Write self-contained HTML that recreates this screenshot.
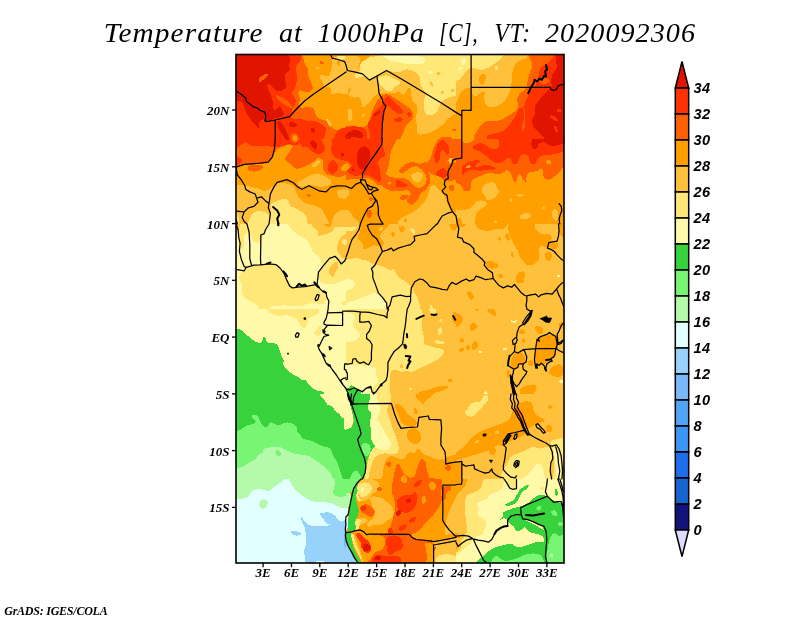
<!DOCTYPE html>
<html lang="en"><head><meta charset="utf-8"><title>Temperature at 1000hPa [C], VT: 2020092306</title>
<style>html,body{margin:0;padding:0;background:#fff}body{width:800px;height:618px;overflow:hidden}svg{display:block}.t{font-family:"Liberation Serif",serif;font-style:italic;font-size:27px;letter-spacing:1px;fill:#000}.a{font-family:"Liberation Serif",serif;font-style:italic;font-weight:bold;font-size:13px;fill:#000}.c{font-family:"Liberation Sans",sans-serif;font-style:italic;font-weight:bold;font-size:14.6px;letter-spacing:0.4px;fill:#000}.g{font-family:"Liberation Serif",serif;font-style:italic;font-weight:bold;font-size:12px;fill:#000}</style></head><body>
<svg width="800" height="618" viewBox="0 0 800 618">
<rect width="800" height="618" fill="#fff"/>
<text class="t" y="41.8"><tspan x="103.8" textLength="159.7" lengthAdjust="spacingAndGlyphs">Temperature</tspan> <tspan x="279" textLength="24.0" lengthAdjust="spacingAndGlyphs">at</tspan> <tspan x="317.5" textLength="107.5" lengthAdjust="spacingAndGlyphs">1000hPa</tspan> <tspan x="439" textLength="39.5" lengthAdjust="spacingAndGlyphs">[C],</tspan> <tspan x="494.5" textLength="36.5" lengthAdjust="spacingAndGlyphs">VT:</tspan> <tspan x="545" textLength="151.0" lengthAdjust="spacingAndGlyphs">2020092306</tspan></text>
<defs>
<clipPath id="fr"><rect x="236" y="54.5" width="328" height="508.5"/></clipPath>
<clipPath id="t00"><rect x="236" y="54" width="110" height="85"/></clipPath>
<clipPath id="t10"><rect x="346" y="54" width="110" height="85"/></clipPath>
<clipPath id="t20"><rect x="456" y="54" width="110" height="85"/></clipPath>
<clipPath id="t01"><rect x="236" y="139" width="110" height="85"/></clipPath>
<clipPath id="t11"><rect x="346" y="139" width="110" height="85"/></clipPath>
<clipPath id="t21"><rect x="456" y="139" width="110" height="85"/></clipPath>
<clipPath id="t02"><rect x="236" y="224" width="110" height="85"/></clipPath>
<clipPath id="t12"><rect x="346" y="224" width="110" height="85"/></clipPath>
<clipPath id="t22"><rect x="456" y="224" width="110" height="85"/></clipPath>
<clipPath id="t03"><rect x="236" y="309" width="110" height="85"/></clipPath>
<clipPath id="t13"><rect x="346" y="309" width="110" height="85"/></clipPath>
<clipPath id="t23"><rect x="456" y="309" width="110" height="85"/></clipPath>
<clipPath id="t04"><rect x="236" y="394" width="110" height="85"/></clipPath>
<clipPath id="t14"><rect x="346" y="394" width="110" height="85"/></clipPath>
<clipPath id="t24"><rect x="456" y="394" width="110" height="85"/></clipPath>
<clipPath id="t05"><rect x="236" y="479" width="110" height="85"/></clipPath>
<clipPath id="t15"><rect x="346" y="479" width="110" height="85"/></clipPath>
<clipPath id="t25"><rect x="456" y="479" width="110" height="85"/></clipPath>
</defs>
<g clip-path="url(#fr)">
<rect x="236" y="54.5" width="328" height="508.5" fill="#ffc03c"/>
<g clip-path="url(#t00)" shape-rendering="crispEdges">
<rect x="236" y="54" width="110" height="85" fill="#ffa000"/>
<path d="M266.9,51.2L300.6,51.2L302.3,55.4Q304.1,59.5 304.4,62.2Q304.8,65.0 306.8,67.1Q308.9,69.1 308.2,71.9Q307.5,74.6 309.2,78.1Q310.9,81.5 312.3,86.0Q313.7,90.4 309.2,91.8Q304.8,93.2 302.3,91.1Q299.9,89.1 298.9,91.5Q297.9,93.9 299.2,96.6Q300.6,99.4 299.6,102.1Q298.6,104.9 299.6,106.6Q300.6,108.3 304.8,107.3Q308.9,106.2 311.6,107.6Q314.4,109.0 314.7,111.8Q315.1,114.5 316.8,116.6Q318.5,118.6 321.2,119.3Q324.0,120.0 326.8,121.4Q329.5,122.8 330.9,125.5Q332.2,128.2 335.0,129.6Q337.8,131.0 339.1,129.6Q340.5,128.2 345.3,127.6L350.1,126.9L350.1,134.4L350.1,142.0L291.7,142.0L233.2,142.0L233.2,96.6L233.2,51.2L266.9,51.2Z" fill="#ff6000"/>
<path d="M266.9,51.2L300.6,51.2L301.3,55.4Q302.0,59.5 299.2,62.2Q296.5,65.0 295.8,67.8Q295.1,70.5 296.5,73.2Q297.9,76.0 297.2,78.8Q296.5,81.5 295.8,84.9Q295.1,88.4 293.1,91.1Q291.0,93.9 293.8,96.6Q296.5,99.4 295.8,102.1Q295.1,104.9 293.1,106.9Q291.0,109.0 292.4,111.8Q293.8,114.5 291.7,115.5Q289.6,116.6 292.4,118.3Q295.1,120.0 298.6,119.3Q302.0,118.6 304.8,120.0Q307.5,121.4 310.2,120.7Q313.0,120.0 315.8,121.4Q318.5,122.8 321.2,124.1Q324.0,125.5 325.4,128.2Q326.8,131.0 325.4,133.8Q324.0,136.5 324.0,139.2L324.0,142.0L278.6,142.0L233.2,142.0L233.2,96.6L233.2,51.2L266.9,51.2Z" fill="#ff3200"/>
<path d="M233.2,76.0L233.2,51.2L257.3,51.2L281.4,51.2L285.5,53.3Q289.6,55.4 290.3,58.1Q291.0,60.9 289.6,62.9Q288.2,65.0 289.6,67.1Q291.0,69.1 288.9,70.5Q286.9,71.9 285.5,73.9Q284.1,76.0 284.8,78.8Q285.5,81.5 286.2,84.2Q286.9,87.0 284.1,89.1Q281.4,91.1 278.6,91.1Q275.9,91.1 273.8,88.4Q271.8,85.6 270.0,84.2Q268.3,82.9 267.6,84.9Q266.9,87.0 268.7,90.4Q270.4,93.9 271.4,96.6Q272.4,99.4 272.8,102.8Q273.1,106.2 273.8,109.0Q274.5,111.8 275.9,109.7Q277.2,107.6 278.6,106.9Q280.0,106.2 281.7,109.0Q283.4,111.8 283.8,113.8Q284.1,115.9 280.7,116.9Q277.2,117.9 271.4,119.7Q265.6,121.4 264.5,120.0Q263.5,118.6 260.8,120.7Q258.0,122.8 258.7,125.5Q259.4,128.2 261.4,129.6Q263.5,131.0 260.1,128.9Q256.6,126.9 253.2,122.8Q249.8,118.6 247.7,115.2Q245.6,111.8 244.6,108.3Q243.6,104.9 242.5,102.8Q241.5,100.8 238.8,100.8Q236.0,100.8 234.6,100.8L233.2,100.8L233.2,76.0Z" fill="#e11400"/>
<path d="M258.7,81.2Q258.0,80.1 259.7,78.1Q261.4,76.0 264.2,74.6Q266.9,73.2 267.6,74.3Q268.3,75.3 265.9,77.7Q263.5,80.1 261.4,81.2Q259.4,82.2 258.7,81.2Z" fill="#ff6000"/>
<path d="M275.5,96.3Q275.2,94.6 278.3,95.6Q281.4,96.6 286.2,100.1Q291.0,103.5 292.0,105.9Q293.1,108.3 290.7,108.0Q288.2,107.6 284.8,104.9Q281.4,102.1 278.6,100.1Q275.9,98.0 275.5,96.3Z" fill="#ff6000"/>
</g>
<g clip-path="url(#t10)" shape-rendering="crispEdges">
<rect x="346" y="54" width="110" height="85" fill="#ffc03c"/>
<path d="M359.8,65.0Q359.8,62.2 361.8,60.2Q363.9,58.1 367.3,57.4Q370.8,56.8 376.2,56.4Q381.8,56.1 381.8,53.7L381.8,51.2L420.9,51.2L460.1,51.2L460.1,73.2L460.1,95.2L455.3,95.9Q450.5,96.6 446.4,98.7Q442.2,100.8 440.9,102.8Q439.5,104.9 438.8,107.6Q438.1,110.4 436.1,112.4Q434.0,114.5 430.6,115.2Q427.1,115.9 425.8,113.8Q424.4,111.8 424.0,108.3Q423.7,104.9 424.0,100.8Q424.4,96.6 425.8,95.2Q427.1,93.9 425.1,91.8Q423.0,89.8 421.6,87.0Q420.2,84.2 420.2,80.8Q420.2,77.4 418.9,75.3Q417.5,73.2 414.1,71.5Q410.6,69.8 407.9,69.5Q405.1,69.1 403.1,70.5Q401.0,71.9 398.9,72.2Q396.9,72.6 394.1,71.9Q391.4,71.2 389.0,70.8Q386.6,70.5 384.2,71.9Q381.8,73.2 379.0,75.0Q376.2,76.7 373.5,78.1Q370.8,79.4 368.7,79.1Q366.6,78.8 365.2,77.4Q363.9,76.0 361.8,76.7Q359.8,77.4 357.3,78.1Q354.9,78.8 354.6,76.7Q354.2,74.6 357.0,73.2Q359.8,71.9 359.8,69.8Q359.8,67.8 359.8,65.0Z" fill="#ffe878"/>
<path d="M378.0,80.1Q377.6,77.4 382.4,76.0Q387.2,74.6 390.7,76.7Q394.1,78.8 397.6,80.1Q401.0,81.5 399.6,83.6Q398.2,85.6 395.8,86.3Q393.4,87.0 393.1,89.1Q392.8,91.1 390.0,91.1Q387.2,91.1 384.5,89.1Q381.8,87.0 380.0,84.9Q378.3,82.9 378.0,80.1Z" fill="#ffe878"/>
<path d="M384.8,57.8Q382.4,56.1 386.9,55.7Q391.4,55.4 401.7,55.7Q412.0,56.1 418.5,56.4Q425.1,56.8 425.4,58.8Q425.8,60.9 424.4,62.6Q423.0,64.3 418.9,64.0Q414.8,63.6 410.6,64.0Q406.5,64.3 403.8,63.3Q401.0,62.2 396.9,61.9Q392.8,61.6 390.0,60.5Q387.2,59.5 384.8,57.8Z" fill="#fffaaa"/>
<path d="M429.2,73.6Q427.1,73.2 428.8,71.9Q430.6,70.5 432.3,70.8Q434.0,71.2 432.6,72.6Q431.2,73.9 429.2,73.6Z" fill="#fffaaa"/>
<path d="M436.8,74.6Q435.4,73.2 437.1,72.2Q438.8,71.2 439.8,72.6Q440.9,73.9 439.5,75.0Q438.1,76.0 436.8,74.6Z" fill="#ffc03c"/>
<path d="M430.2,83.9Q429.2,80.8 430.6,81.2Q431.9,81.5 433.0,83.9Q434.0,86.3 432.6,86.7Q431.2,87.0 430.2,83.9Z" fill="#ffc03c"/>
<path d="M440.9,93.0Q440.2,91.8 441.9,90.9Q443.6,90.0 444.3,91.3Q445.0,92.5 443.3,93.3Q441.6,94.2 440.9,93.0Z" fill="#ffc03c"/>
<path d="M451.2,91.3Q450.5,89.8 451.9,88.9Q453.2,88.1 453.9,89.6Q454.6,91.1 453.2,92.0Q451.9,92.8 451.2,91.3Z" fill="#ffc03c"/>
<path d="M343.2,56.8L343.2,51.2L357.0,51.2L370.8,51.2L370.1,54.7Q369.4,58.1 365.2,59.8Q361.1,61.6 360.1,64.7Q359.1,67.8 356.7,69.1Q354.2,70.5 351.5,69.1Q348.8,67.8 346.0,65.0L343.2,62.2L343.2,56.8Z" fill="#ffa000"/>
<path d="M343.2,114.5L343.2,87.0L346.0,86.3Q348.8,85.6 350.1,87.7Q351.5,89.8 349.4,92.5Q347.4,95.2 350.8,96.6Q354.2,98.0 357.0,97.3Q359.8,96.6 360.8,99.4Q361.8,102.1 361.5,104.9Q361.1,107.6 363.9,106.9Q366.6,106.2 370.1,101.4Q373.5,96.6 376.2,95.2Q379.0,93.9 381.8,93.2Q384.5,92.5 388.6,93.2Q392.8,93.9 395.5,92.5Q398.2,91.1 399.6,92.5Q401.0,93.9 403.1,94.6Q405.1,95.2 406.5,91.1Q407.9,87.0 409.9,87.7Q412.0,88.4 411.3,91.8Q410.6,95.2 412.0,98.7Q413.4,102.1 415.4,103.5Q417.5,104.9 417.5,108.3Q417.5,111.8 416.1,115.2Q414.8,118.6 416.1,122.1Q417.5,125.5 416.8,129.6Q416.1,133.8 419.6,134.4Q423.0,135.1 428.5,133.1Q434.0,131.0 438.1,128.2Q442.2,125.5 445.0,122.1Q447.8,118.6 451.9,115.9Q456.0,113.1 458.1,112.4L460.1,111.8L460.1,126.9L460.1,142.0L401.7,142.0L343.2,142.0L343.2,114.5Z" fill="#ffa000"/>
<path d="M347.7,115.2Q347.4,110.4 349.4,109.7Q351.5,109.0 352.2,111.8Q352.9,114.5 352.2,117.9Q351.5,121.4 349.8,120.7Q348.1,120.0 347.7,115.2Z" fill="#ffc03c"/>
<path d="M361.8,115.9Q361.4,114.5 363.0,114.2Q364.6,113.8 364.9,115.2Q365.2,116.6 363.7,116.9Q362.2,117.2 361.8,115.9Z" fill="#ffc03c"/>
<path d="M343.2,133.8L343.2,125.5L348.8,126.2Q354.2,126.9 358.4,127.6Q362.5,128.2 365.9,125.5Q369.4,122.8 370.1,118.6Q370.8,114.5 372.1,111.1Q373.5,107.6 375.6,103.5Q377.6,99.4 379.7,97.3Q381.8,95.2 384.5,94.6Q387.2,93.9 390.0,95.2Q392.8,96.6 395.5,98.7Q398.2,100.8 401.7,102.8Q405.1,104.9 407.9,106.9Q410.6,109.0 412.3,111.8Q414.1,114.5 413.0,117.2Q412.0,120.0 409.9,121.4Q407.9,122.8 406.5,125.5Q405.1,128.2 403.8,131.0Q402.4,133.8 401.0,137.9L399.6,142.0L371.4,142.0L343.2,142.0L343.2,133.8Z" fill="#ff6000"/>
<path d="M368.7,122.1Q370.8,118.6 372.1,115.2Q373.5,111.8 376.9,109.7Q380.4,107.6 381.8,104.2Q383.1,100.8 385.2,98.0Q387.2,95.2 389.3,96.6Q391.4,98.0 392.8,100.1Q394.1,102.1 396.9,104.2Q399.6,106.2 401.7,109.0Q403.8,111.8 402.4,113.1Q401.0,114.5 398.9,113.8Q396.9,113.1 394.1,111.1Q391.4,109.0 389.3,106.9Q387.2,104.9 385.9,106.9Q384.5,109.0 383.8,112.4Q383.1,115.9 382.4,120.7Q381.8,125.5 381.4,133.8L381.1,142.0L375.2,142.0L369.4,142.0L369.7,136.5Q370.1,131.0 368.3,128.2Q366.6,125.5 368.7,122.1Z" fill="#ff3200"/>
<path d="M394.1,120.3Q394.1,118.6 397.6,117.6Q401.0,116.6 402.4,118.3Q403.8,120.0 401.0,121.4Q398.2,122.8 396.2,122.4Q394.1,122.1 394.1,120.3Z" fill="#ff3200"/>
<path d="M407.5,115.3Q406.5,113.1 408.6,112.4Q410.6,111.8 411.3,113.8Q412.0,115.9 410.3,116.7Q408.6,117.5 407.5,115.3Z" fill="#ff3200"/>
<path d="M343.2,135.8L343.2,129.6L348.8,128.9Q354.2,128.2 357.7,129.6Q361.1,131.0 362.5,133.8Q363.9,136.5 364.6,139.2L365.2,142.0L354.2,142.0L343.2,142.0L343.2,135.8Z" fill="#ff3200"/>
<path d="M348.8,137.5Q348.8,133.1 352.9,132.0Q357.0,131.0 359.8,133.1Q362.5,135.1 363.2,138.6L363.9,142.0L356.3,142.0L348.8,142.0L348.8,137.5Z" fill="#e11400"/>
<path d="M374.2,115.5Q373.5,114.5 376.2,112.4Q379.0,110.4 379.7,111.4Q380.4,112.4 377.6,114.5Q374.9,116.6 374.2,115.5Z" fill="#e11400"/>
<path d="M452.2,130.0Q451.9,128.9 453.9,128.6Q456.0,128.2 456.0,129.6Q456.0,131.0 454.3,131.0Q452.6,131.0 452.2,130.0Z" fill="#ff6000"/>
<path d="M439.5,139.9Q439.5,137.9 442.2,137.2Q445.0,136.5 448.4,136.5Q451.9,136.5 452.2,139.2L452.6,142.0L446.0,142.0L439.5,142.0L439.5,139.9Z" fill="#ff6000"/>
</g>
<g clip-path="url(#t20)" shape-rendering="crispEdges">
<rect x="456" y="54" width="110" height="85" fill="#ffa000"/>
<path d="M462.2,51.2L471.1,51.2L499.3,51.2L527.5,51.2L527.5,54.7Q527.5,58.1 524.1,58.8Q520.6,59.5 517.9,61.6Q515.1,63.6 513.8,67.1Q512.4,70.5 512.0,76.0Q511.7,81.5 511.3,84.9Q511.0,88.4 509.6,91.8Q508.2,95.2 506.2,98.7Q504.1,102.1 500.7,104.2Q497.2,106.2 493.1,106.9Q489.0,107.6 486.9,105.6Q484.9,103.5 484.2,100.1Q483.5,96.6 484.5,94.6Q485.6,92.5 483.8,91.8Q482.1,91.1 480.1,93.2Q478.0,95.2 475.9,95.9Q473.9,96.6 472.8,94.6Q471.8,92.5 471.5,89.8Q471.1,87.0 468.4,87.7Q465.6,88.4 463.6,89.8Q461.5,91.1 460.1,93.2Q458.8,95.2 458.1,98.7Q457.4,102.1 455.3,102.8L453.2,103.5L453.2,77.4L453.2,51.2L462.2,51.2Z" fill="#ffc03c"/>
<path d="M479.4,77.4Q480.1,74.6 482.5,73.9Q484.9,73.2 485.6,75.3Q486.2,77.4 485.2,80.8Q484.2,84.2 482.5,84.6Q480.8,84.9 479.7,82.5Q478.7,80.1 479.4,77.4Z" fill="#ffa000"/>
<path d="M453.2,66.4L453.2,51.2L478.7,51.2L504.1,51.2L502.8,55.4Q501.4,59.5 497.9,61.6Q494.5,63.6 491.8,65.7Q489.0,67.8 484.9,69.1Q480.8,70.5 477.3,69.1Q473.9,67.8 471.8,67.8Q469.8,67.8 467.0,70.5Q464.2,73.2 462.2,76.7Q460.1,80.1 456.7,80.8L453.2,81.5L453.2,66.4Z" fill="#ffe878"/>
<path d="M461.4,60.9Q461.5,58.1 463.2,57.8Q464.9,57.4 465.6,59.8Q466.3,62.2 464.9,64.0Q463.6,65.7 462.4,64.7Q461.2,63.6 461.4,60.9Z" fill="#fffaaa"/>
<path d="M458.1,69.6Q457.4,68.4 459.8,67.4Q462.2,66.4 462.5,67.4Q462.9,68.4 460.8,69.6Q458.8,70.8 458.1,69.6Z" fill="#fffaaa"/>
<path d="M494.4,68.2Q494.2,66.1 496.2,65.8Q498.2,65.4 498.4,67.5Q498.6,69.7 496.6,69.9Q494.6,70.2 494.4,68.2Z" fill="#ffe878"/>
<path d="M548.8,51.2L527.5,51.2L528.9,55.4Q530.2,59.5 531.6,62.2Q533.0,65.0 531.6,68.4Q530.2,71.9 528.9,75.3Q527.5,78.8 527.5,82.2Q527.5,85.6 526.1,87.7Q524.8,89.8 522.0,91.8Q519.2,93.9 517.9,97.3Q516.5,100.8 517.9,103.5Q519.2,106.2 517.2,109.0Q515.1,111.8 511.7,113.8Q508.2,115.9 504.8,117.9Q501.4,120.0 497.9,120.7Q494.5,121.4 491.1,120.7Q487.6,120.0 484.9,122.1Q482.1,124.1 479.4,127.6Q476.6,131.0 474.6,135.0Q472.5,139.0 472.5,140.5L472.5,142.0L521.3,142.0L570.1,142.0L570.1,96.6L570.1,51.2L548.8,51.2Z" fill="#ff6000"/>
<path d="M562.6,51.2L555.0,51.2L553.6,55.4Q552.2,59.5 549.5,61.6Q546.8,63.6 544.3,64.7Q541.9,65.7 540.6,68.1Q539.2,70.5 538.8,73.9Q538.5,77.4 537.8,80.1Q537.1,82.9 535.1,85.3Q533.0,87.7 530.9,90.8Q528.9,93.9 527.5,96.6Q526.1,99.4 525.4,102.8Q524.8,106.2 522.7,107.6Q520.6,109.0 518.6,111.8Q516.5,114.5 513.8,118.6Q511.0,122.8 508.9,125.5Q506.9,128.2 504.1,130.3Q501.4,132.4 496.6,133.1Q491.8,133.8 489.0,135.1Q486.2,136.5 486.9,139.2L487.6,142.0L528.9,142.0L570.1,142.0L570.1,96.6L570.1,51.2L562.6,51.2Z" fill="#ff3200"/>
<path d="M539.9,81.8Q538.5,78.8 541.2,77.4Q544.0,76.0 546.8,77.4Q549.5,78.8 548.8,81.2Q548.1,83.6 544.7,84.2Q541.2,84.9 539.9,81.8Z" fill="#ff6000"/>
<path d="M521.7,115.9Q521.7,109.0 523.2,108.3Q524.8,107.6 525.1,112.4Q525.4,117.2 525.1,122.8Q524.8,128.2 523.7,131.0Q522.7,133.8 522.2,128.2Q521.7,122.8 521.7,115.9Z" fill="#ff6000"/>
<path d="M563.9,51.2L557.8,51.2L556.4,55.4Q555.0,59.5 556.4,63.6Q557.8,67.8 555.0,70.5Q552.2,73.2 551.6,77.4Q550.9,81.5 551.6,84.2Q552.2,87.0 548.1,90.4Q544.0,93.9 541.9,96.6Q539.9,99.4 537.1,102.8Q534.4,106.2 535.1,109.7Q535.8,113.1 533.7,116.6Q531.6,120.0 532.3,123.4Q533.0,126.9 535.8,129.6Q538.5,132.4 541.2,134.4Q544.0,136.5 544.7,139.2L545.4,142.0L557.8,142.0L570.1,142.0L570.1,96.6L570.1,51.2L563.9,51.2Z" fill="#e11400"/>
<path d="M556.7,110.9Q556.4,109.0 558.8,108.7Q561.2,108.3 561.7,110.0Q562.1,111.8 559.6,112.3Q557.1,112.8 556.7,110.9Z" fill="#ff3200"/>
<path d="M550.5,117.6Q548.8,115.9 551.2,115.5Q553.6,115.2 556.4,117.6Q559.1,120.0 558.4,121.0Q557.8,122.1 555.0,120.7Q552.2,119.3 550.5,117.6Z" fill="#ff3200"/>
<path d="M554.3,128.6Q553.6,125.5 555.3,125.8Q557.1,126.2 557.8,129.3Q558.4,132.4 556.7,132.0Q555.0,131.7 554.3,128.6Z" fill="#ff3200"/>
</g>
<g clip-path="url(#t01)" shape-rendering="crispEdges">
<rect x="236" y="139" width="110" height="85" fill="#ffa000"/>
<path d="M233.2,152.1L233.2,136.2L291.7,136.2L350.1,136.2L350.1,156.9L350.1,177.5L347.4,176.1Q344.6,174.8 342.6,176.1Q340.5,177.5 336.4,176.8Q332.2,176.1 328.1,174.8Q324.0,173.4 323.3,169.9Q322.6,166.5 323.3,163.8Q324.0,161.0 321.2,158.9Q318.5,156.9 315.8,159.6Q313.0,162.4 310.2,163.8Q307.5,165.1 304.8,166.5Q302.0,167.9 298.6,168.6Q295.1,169.2 293.8,167.2Q292.4,165.1 290.3,163.8Q288.2,162.4 286.2,161.0Q284.1,159.6 286.2,156.9Q288.2,154.1 289.6,151.4Q291.0,148.6 292.4,147.2Q293.8,145.9 291.0,145.2Q288.2,144.5 284.8,145.9Q281.4,147.2 278.6,148.6Q275.9,150.0 274.5,153.4Q273.1,156.9 271.1,159.6Q269.0,162.4 266.2,163.1Q263.5,163.8 260.1,164.1Q256.6,164.4 253.2,164.4Q249.8,164.4 247.0,164.8Q244.2,165.1 242.2,165.8Q240.1,166.5 236.7,167.2L233.2,167.9L233.2,152.1Z" fill="#ff6000"/>
<path d="M247.7,168.7Q247.0,166.5 249.8,165.5Q252.5,164.4 258.0,164.8Q263.5,165.1 262.8,167.2Q262.1,169.2 258.7,170.6Q255.2,172.0 251.8,171.4Q248.4,170.9 247.7,168.7Z" fill="#ff6000"/>
<path d="M233.2,142.4L233.2,136.2L266.9,136.2L300.6,136.2L299.9,140.4Q299.2,144.5 297.2,145.2Q295.1,145.9 292.4,144.8Q289.6,143.8 286.2,144.8Q282.8,145.9 279.3,146.6Q275.9,147.2 273.1,146.9Q270.4,146.6 266.9,146.2Q263.5,145.9 260.1,146.2Q256.6,146.6 253.2,146.2Q249.8,145.9 248.4,143.8Q247.0,141.8 244.9,142.4Q242.9,143.1 240.8,145.2Q238.8,147.2 236.0,147.9L233.2,148.6L233.2,142.4Z" fill="#ff3200"/>
<path d="M233.2,162.0L233.2,158.2L236.7,157.6Q240.1,156.9 241.5,158.9Q242.9,161.0 240.8,163.1Q238.8,165.1 236.0,165.5L233.2,165.8L233.2,162.0Z" fill="#ff3200"/>
<path d="M309.6,136.2L299.2,136.2L299.9,141.8Q300.6,147.2 303.4,146.6Q306.1,145.9 308.2,147.9Q310.2,150.0 313.0,152.1Q315.8,154.1 318.5,154.1Q321.2,154.1 323.3,152.1Q325.4,150.0 324.7,147.2Q324.0,144.5 321.9,140.4L319.9,136.2L309.6,136.2Z" fill="#ff3200"/>
<path d="M340.5,136.2L330.9,136.2L331.6,140.4Q332.2,144.5 331.6,147.9Q330.9,151.4 332.9,154.1Q335.0,156.9 337.8,158.2Q340.5,159.6 343.2,160.3Q346.0,161.0 348.1,161.0L350.1,161.0L350.1,148.6L350.1,136.2L340.5,136.2Z" fill="#ff3200"/>
<path d="M327.8,168.2Q327.4,165.1 329.8,162.0Q332.2,158.9 335.3,161.3Q338.4,163.8 338.4,167.2Q338.4,170.6 335.3,172.7Q332.2,174.8 330.2,173.0Q328.1,171.3 327.8,168.2Z" fill="#ff3200"/>
<path d="M310.6,144.6Q309.6,141.8 311.6,140.7Q313.7,139.7 315.8,142.1Q317.8,144.5 317.1,146.9Q316.4,149.3 314.0,148.4Q311.6,147.5 310.6,144.6Z" fill="#e11400"/>
<path d="M341.2,154.8Q340.5,152.8 342.2,152.1Q343.9,151.4 344.6,153.1Q345.3,154.8 343.6,155.8Q341.9,156.9 341.2,154.8Z" fill="#e11400"/>
<path d="M233.2,205.7L233.2,184.4L236.7,184.7Q240.1,185.1 242.9,185.4Q245.6,185.8 249.1,186.4Q252.5,187.1 255.9,187.8Q259.4,188.5 261.4,189.9Q263.5,191.2 266.2,190.6Q269.0,189.9 271.1,187.8Q273.1,185.8 275.2,184.4Q277.2,183.0 280.7,183.0Q284.1,183.0 287.6,183.7Q291.0,184.4 293.1,186.4Q295.1,188.5 295.8,191.2Q296.5,194.0 298.6,196.8Q300.6,199.5 302.7,201.6Q304.8,203.6 308.9,204.3Q313.0,205.0 317.1,206.4Q321.2,207.8 322.6,210.5Q324.0,213.2 325.4,216.0Q326.8,218.8 328.8,222.9L330.9,227.0L282.1,227.0L233.2,227.0L233.2,205.7Z" fill="#ffc03c"/>
<path d="M297.9,184.7Q296.5,183.0 299.2,181.6Q302.0,180.2 306.1,177.5Q310.2,174.8 314.4,174.1Q318.5,173.4 321.2,174.8Q324.0,176.1 326.8,177.5Q329.5,178.9 330.9,180.9Q332.2,183.0 330.2,184.4Q328.1,185.8 324.7,186.4Q321.2,187.1 317.8,186.4Q314.4,185.8 311.6,185.1Q308.9,184.4 306.1,185.8Q303.4,187.1 301.3,186.8Q299.2,186.4 297.9,184.7Z" fill="#ffc03c"/>
<path d="M312.9,166.9Q311.4,166.2 313.6,163.5Q315.8,160.7 318.2,160.3Q320.6,159.9 319.7,162.4Q318.8,164.8 316.6,166.2Q314.4,167.6 312.9,166.9Z" fill="#ffc03c"/>
<path d="M341.2,227.0L332.2,227.0L332.9,222.9Q333.6,218.8 335.7,216.0Q337.8,213.2 341.9,211.9Q346.0,210.5 348.1,210.2L350.1,209.8L350.1,218.4L350.1,227.0L341.2,227.0Z" fill="#ffc03c"/>
<path d="M341.2,196.8Q339.1,194.0 342.6,192.6Q346.0,191.2 348.1,191.2L350.1,191.2L350.1,194.7L350.1,198.1L346.7,198.8Q343.2,199.5 341.2,196.8Z" fill="#ffc03c"/>
<path d="M270.7,207.1Q270.4,203.6 273.8,202.2Q277.2,200.9 280.7,199.5Q284.1,198.1 286.5,198.8Q288.9,199.5 289.3,202.9Q289.6,206.4 292.4,207.1Q295.1,207.8 297.2,209.1Q299.2,210.5 302.0,211.9Q304.8,213.2 306.1,216.0Q307.5,218.8 307.5,222.9L307.5,227.0L277.2,227.0L247.0,227.0L248.4,222.2Q249.8,217.4 251.8,214.6Q253.9,211.9 257.3,211.2Q260.8,210.5 264.2,211.9Q267.6,213.2 268.7,214.6Q269.7,216.0 270.4,213.2Q271.1,210.5 270.7,207.1Z" fill="#ffe878"/>
<path d="M233.2,220.1L233.2,213.2L236.0,213.6Q238.8,213.9 239.1,220.5L239.4,227.0L236.3,227.0L233.2,227.0L233.2,220.1Z" fill="#ffe878"/>
<path d="M307.0,195.7Q305.9,194.3 307.7,194.0Q309.6,193.7 310.7,194.9Q311.9,196.1 310.0,196.5Q308.2,197.0 307.0,195.7Z" fill="#ff6000"/>
</g>
<g clip-path="url(#t11)" shape-rendering="crispEdges">
<rect x="346" y="139" width="110" height="85" fill="#ffa000"/>
<path d="M343.2,158.2L343.2,136.2L370.8,136.2L398.2,136.2L396.2,140.4Q394.1,144.5 392.8,147.2Q391.4,150.0 390.7,153.4Q390.0,156.9 389.7,160.3Q389.3,163.8 388.3,166.5Q387.2,169.2 386.6,171.3Q385.9,173.4 386.6,176.1Q387.2,178.9 384.5,181.6Q381.8,184.4 379.7,185.1Q377.6,185.8 375.6,183.0Q373.5,180.2 370.1,178.9Q366.6,177.5 364.6,178.2Q362.5,178.9 358.4,178.9Q354.2,178.9 348.8,179.6L343.2,180.2L343.2,158.2Z" fill="#ff6000"/>
<path d="M385.2,176.8Q385.9,173.4 388.6,176.1Q391.4,178.9 396.2,178.2Q401.0,177.5 403.8,178.2Q406.5,178.9 409.2,180.9Q412.0,183.0 413.4,185.1Q414.8,187.1 417.5,187.8Q420.2,188.5 423.0,186.4Q425.8,184.4 426.4,181.6Q427.1,178.9 426.1,176.1Q425.1,173.4 422.7,170.6Q420.2,167.9 417.5,166.5Q414.8,165.1 412.0,165.8Q409.2,166.5 406.5,168.6Q403.8,170.6 401.7,172.0Q399.6,173.4 399.3,171.7Q398.9,169.9 401.3,167.5Q403.8,165.1 407.2,163.4Q410.6,161.7 414.1,162.4Q417.5,163.1 420.2,164.1Q423.0,165.1 425.8,167.9Q428.5,170.6 429.5,174.1Q430.6,177.5 430.2,180.9Q429.9,184.4 427.8,187.1Q425.8,189.9 423.0,191.9Q420.2,194.0 418.9,196.8Q417.5,199.5 415.4,202.2Q413.4,205.0 410.6,204.3Q407.9,203.6 407.2,201.6Q406.5,199.5 408.6,197.4Q410.6,195.4 410.6,193.3Q410.6,191.2 408.6,190.6Q406.5,189.9 403.8,190.6Q401.0,191.2 397.6,190.6Q394.1,189.9 391.4,187.1Q388.6,184.4 386.6,182.3Q384.5,180.2 385.2,176.8Z" fill="#ff6000"/>
<path d="M449.8,136.2L439.5,136.2L437.4,140.4Q435.4,144.5 434.0,147.2Q432.6,150.0 431.9,153.4Q431.2,156.9 429.9,159.6Q428.5,162.4 425.8,163.1Q423.0,163.8 425.1,166.5Q427.1,169.2 429.2,172.0Q431.2,174.8 435.4,175.4Q439.5,176.1 441.6,178.2Q443.6,180.2 445.7,180.9Q447.8,181.6 450.5,180.9Q453.2,180.2 456.7,180.2L460.1,180.2L460.1,172.7L460.1,165.1L457.4,163.8Q454.6,162.4 453.2,160.3Q451.9,158.2 452.6,155.5Q453.2,152.8 454.6,150.0Q456.0,147.2 458.1,145.9L460.1,144.5L460.1,140.4L460.1,136.2L449.8,136.2Z" fill="#ff6000"/>
<path d="M441.9,151.0Q442.2,147.9 444.3,149.0Q446.4,150.0 447.6,153.4Q448.9,156.9 448.4,159.8Q448.0,162.7 445.8,161.8Q443.6,161.0 442.6,157.6Q441.6,154.1 441.9,151.0Z" fill="#ffa000"/>
<path d="M435.8,150.7Q436.5,148.6 438.8,147.8Q441.1,147.0 441.1,150.6Q441.1,154.1 440.5,157.7Q439.8,161.3 437.9,160.6Q436.1,159.9 435.6,156.3Q435.1,152.8 435.8,150.7Z" fill="#ff3200"/>
<path d="M437.3,175.6Q435.1,173.4 438.0,170.8Q440.9,168.2 443.8,169.2Q446.6,170.3 446.3,173.7Q446.0,177.1 442.7,177.5Q439.5,177.9 437.3,175.6Z" fill="#ff3200"/>
<path d="M440.4,143.6Q439.2,141.8 441.4,140.9Q443.6,140.1 446.2,143.7Q448.9,147.2 449.1,150.0Q449.4,152.8 447.5,150.1Q445.7,147.5 443.6,146.5Q441.6,145.5 440.4,143.6Z" fill="#ff3200"/>
<path d="M343.2,141.1L343.2,136.2L362.8,136.2L382.4,136.2L382.1,140.4Q381.8,144.5 383.1,147.2Q384.5,150.0 384.8,153.4Q385.2,156.9 382.1,157.6Q379.0,158.2 378.3,161.0Q377.6,163.8 379.0,166.5Q380.4,169.2 380.4,172.7Q380.4,176.1 381.1,179.6Q381.8,183.0 379.7,182.3Q377.6,181.6 375.6,179.6Q373.5,177.5 370.8,176.1Q368.0,174.8 365.2,174.8Q362.5,174.8 358.4,175.4Q354.2,176.1 351.5,174.8Q348.8,173.4 347.4,171.3Q346.0,169.2 348.8,167.9Q351.5,166.5 353.6,163.1Q355.6,159.6 354.9,156.9Q354.2,154.1 352.9,151.4Q351.5,148.6 347.4,147.2L343.2,145.9L343.2,141.1Z" fill="#ff3200"/>
<path d="M356.7,150.7Q357.0,147.2 360.4,146.2Q363.9,145.2 366.6,146.9Q369.4,148.6 370.2,152.1Q371.0,155.5 369.5,158.9Q368.0,162.4 365.9,165.3Q363.9,168.2 361.1,169.5Q358.4,170.9 354.8,171.3Q351.2,171.7 352.1,169.1Q352.9,166.5 354.2,163.8Q355.6,161.0 356.0,157.6Q356.3,154.1 356.7,150.7Z" fill="#e11400"/>
<path d="M343.2,166.8L343.2,162.4L346.0,162.7Q348.8,163.1 349.8,164.8Q350.8,166.5 349.1,168.6Q347.4,170.6 345.3,171.0L343.2,171.3L343.2,166.8Z" fill="#ffa000"/>
<path d="M396.5,183.5Q396.2,180.2 398.6,180.8Q401.0,181.3 404.6,183.2Q408.1,185.1 405.9,186.2Q403.8,187.4 400.3,187.1Q396.9,186.7 396.5,183.5Z" fill="#ff3200"/>
<path d="M411.3,176.5Q410.9,174.1 414.2,172.9Q417.5,171.7 420.4,172.6Q423.3,173.4 422.9,175.8Q422.6,178.2 420.7,180.7Q418.9,183.3 416.8,182.6Q414.8,181.9 413.2,180.4Q411.7,178.9 411.3,176.5Z" fill="#ffc03c"/>
<path d="M428.5,227.0L396.9,227.0L397.6,223.6Q398.2,220.1 401.0,218.1Q403.8,216.0 407.9,214.6Q412.0,213.2 415.4,210.5Q418.9,207.8 422.3,204.3Q425.8,200.9 427.1,197.4Q428.5,194.0 429.5,189.9Q430.6,185.8 432.3,185.1Q434.0,184.4 436.1,186.4Q438.1,188.5 440.2,190.2Q442.2,191.9 443.6,194.3Q445.0,196.8 446.0,200.2Q447.1,203.6 448.8,207.1Q450.5,210.5 453.2,211.9Q456.0,213.2 458.1,213.2L460.1,213.2L460.1,220.1L460.1,227.0L428.5,227.0Z" fill="#ffc03c"/>
<path d="M403.8,220.7Q403.5,218.8 405.3,218.4Q407.2,218.1 407.4,220.0Q407.6,221.9 405.8,222.3Q404.0,222.6 403.8,220.7Z" fill="#ffa000"/>
<path d="M343.2,191.9L343.2,187.1L345.7,187.5Q348.1,187.8 348.9,190.2Q349.7,192.6 348.5,194.8Q347.4,197.0 345.3,196.9L343.2,196.8L343.2,191.9Z" fill="#ffc03c"/>
<path d="M343.2,215.3L343.2,209.1L346.0,209.5Q348.8,209.8 350.6,212.9Q352.5,216.0 351.3,218.9Q350.1,221.8 346.7,221.6L343.2,221.5L343.2,215.3Z" fill="#ffc03c"/>
<path d="M367.5,215.2Q366.4,211.9 368.6,210.4Q370.8,208.9 371.6,211.7Q372.4,214.6 370.5,216.6Q368.7,218.5 367.5,215.2Z" fill="#ff6000"/>
<path d="M400.2,198.6Q399.4,196.8 402.2,195.6Q405.1,194.4 407.7,195.2Q410.2,196.1 408.4,197.6Q406.5,199.1 403.8,199.8Q401.0,200.5 400.2,198.6Z" fill="#ff6000"/>
<path d="M449.1,188.3Q448.4,185.1 451.2,184.7Q453.9,184.4 454.3,187.5Q454.6,190.6 452.2,191.0Q449.8,191.5 449.1,188.3Z" fill="#ff6000"/>
</g>
<g clip-path="url(#t21)" shape-rendering="crispEdges">
<rect x="456" y="139" width="110" height="85" fill="#ffa000"/>
<path d="M453.2,159.6L453.2,136.2L511.7,136.2L570.1,136.2L570.1,150.0L570.1,163.8L567.4,164.4Q564.6,165.1 563.2,167.2Q561.9,169.2 559.8,171.3Q557.8,173.4 555.0,176.1Q552.2,178.9 548.8,179.6Q545.4,180.2 544.0,177.5Q542.6,174.8 542.6,170.6Q542.6,166.5 540.6,168.6Q538.5,170.6 535.8,171.3Q533.0,172.0 530.2,172.0Q527.5,172.0 526.8,175.4Q526.1,178.9 526.5,180.9Q526.8,183.0 524.8,181.6Q522.7,180.2 521.7,176.8Q520.6,173.4 519.2,174.1Q517.9,174.8 517.2,178.2Q516.5,181.6 515.1,182.3Q513.8,183.0 513.1,179.6Q512.4,176.1 511.0,174.1Q509.6,172.0 508.2,170.6Q506.9,169.2 504.8,171.3Q502.8,173.4 500.0,174.1Q497.2,174.8 493.8,173.4Q490.4,172.0 486.9,173.4Q483.5,174.8 480.1,176.1Q476.6,177.5 473.9,178.9Q471.1,180.2 471.1,185.1Q471.1,189.9 469.1,190.9Q467.0,191.9 464.9,190.9Q462.9,189.9 462.2,187.1Q461.5,184.4 458.8,183.7Q456.0,183.0 454.6,183.0L453.2,183.0L453.2,159.6Z" fill="#ff6000"/>
<path d="M533.7,136.2L497.2,136.2L498.6,140.4Q500.0,144.5 498.6,147.2Q497.2,150.0 493.8,149.3Q490.4,148.6 486.9,145.9Q483.5,143.1 480.1,143.1Q476.6,143.1 473.9,145.9Q471.1,148.6 473.9,149.3Q476.6,150.0 479.4,151.4Q482.1,152.8 484.9,154.8Q487.6,156.9 489.7,158.9Q491.8,161.0 494.5,162.4Q497.2,163.8 500.0,163.1Q502.8,162.4 505.5,159.6Q508.2,156.9 509.6,158.2Q511.0,159.6 512.4,162.4Q513.8,165.1 515.8,164.4Q517.9,163.8 518.6,160.3Q519.2,156.9 522.0,154.8Q524.8,152.8 526.8,154.8Q528.9,156.9 529.6,160.3Q530.2,163.8 532.3,164.4Q534.4,165.1 535.8,162.4Q537.1,159.6 538.5,157.6Q539.9,155.5 543.3,155.5Q546.8,155.5 550.9,154.8Q555.0,154.1 559.1,152.8Q563.2,151.4 566.7,150.7L570.1,150.0L570.1,143.1L570.1,136.2L533.7,136.2Z" fill="#ff3200"/>
<path d="M461.5,169.2Q461.5,166.5 465.6,163.8Q469.8,161.0 474.6,160.3Q479.4,159.6 479.7,161.0Q480.1,162.4 477.0,163.8Q473.9,165.1 475.2,166.5Q476.6,167.9 481.4,165.8Q486.2,163.8 489.0,165.1Q491.8,166.5 494.5,167.2Q497.2,167.9 495.9,168.9Q494.5,169.9 491.1,169.6Q487.6,169.2 484.2,170.3Q480.8,171.3 477.3,170.3Q473.9,169.2 470.4,169.9Q467.0,170.6 464.9,172.7Q462.9,174.8 462.2,173.4Q461.5,172.0 461.5,169.2Z" fill="#ff3200"/>
<path d="M551.6,136.2L533.0,136.2L532.0,140.4Q530.9,144.5 532.0,147.2Q533.0,150.0 535.1,149.3Q537.1,148.6 537.8,145.9Q538.5,143.1 541.9,142.4Q545.4,141.8 547.4,143.8Q549.5,145.9 552.9,145.9Q556.4,145.9 559.8,144.5Q563.2,143.1 566.7,142.4L570.1,141.8L570.1,139.0L570.1,136.2L551.6,136.2Z" fill="#e11400"/>
<path d="M466.3,167.7Q465.6,166.5 467.7,165.7Q469.8,164.8 470.6,166.0Q471.4,167.2 469.2,168.1Q467.0,169.0 466.3,167.7Z" fill="#ffa000"/>
<path d="M546.8,163.1Q545.4,161.0 547.4,160.3Q549.5,159.6 550.9,161.3Q552.2,163.1 550.2,164.1Q548.1,165.1 546.8,163.1Z" fill="#ffa000"/>
<path d="M464.9,139.7L464.2,136.2L467.3,136.2L470.4,136.2L470.1,139.3Q469.8,142.4 467.7,142.8Q465.6,143.1 464.9,139.7Z" fill="#ffc03c"/>
<path d="M481.8,189.9Q482.1,187.1 484.2,185.1Q486.2,183.0 490.7,182.3Q495.2,181.6 495.9,185.1Q496.6,188.5 498.3,189.9Q500.0,191.2 497.9,194.0Q495.9,196.8 493.8,198.1Q491.8,199.5 489.0,200.2Q486.2,200.9 485.6,197.4Q484.9,194.0 483.2,193.3Q481.4,192.6 481.8,189.9Z" fill="#ffc03c"/>
<path d="M453.2,213.9L453.2,209.1L457.4,209.5Q461.5,209.8 465.6,209.5Q469.8,209.1 471.8,207.1Q473.9,205.0 474.9,202.9Q475.9,200.9 479.7,200.5Q483.5,200.2 485.6,201.9Q487.6,203.6 485.6,205.7Q483.5,207.8 480.8,209.1Q478.0,210.5 476.6,213.2Q475.2,216.0 474.9,221.5L474.6,227.0L468.7,227.0L462.9,227.0L462.2,222.2Q461.5,217.4 458.8,218.1Q456.0,218.8 454.6,218.8L453.2,218.8L453.2,213.9Z" fill="#ffc03c"/>
<path d="M517.5,196.2Q515.1,195.4 517.9,194.6Q520.6,193.7 522.7,194.7Q524.8,195.7 522.3,196.3Q519.9,197.0 517.5,196.2Z" fill="#ffc03c"/>
<path d="M510.0,200.3Q509.9,198.1 510.8,198.0Q511.7,197.8 511.8,200.2Q512.0,202.5 511.0,202.5Q510.0,202.5 510.0,200.3Z" fill="#ffc03c"/>
<path d="M541.6,208.4Q541.2,207.1 543.0,206.6Q544.7,206.1 545.0,207.5Q545.4,208.9 543.7,209.3Q541.9,209.7 541.6,208.4Z" fill="#ffc03c"/>
<path d="M519.6,217.4Q519.2,216.0 522.0,214.3Q524.8,212.6 528.2,213.2Q531.6,213.9 530.9,216.0Q530.2,218.1 527.5,219.0Q524.8,219.9 522.3,219.3Q519.9,218.8 519.6,217.4Z" fill="#ffc03c"/>
<path d="M552.2,216.0Q550.9,211.9 552.9,210.2Q555.0,208.4 556.7,210.2Q558.4,211.9 558.1,216.7Q557.8,221.5 555.7,220.8Q553.6,220.1 552.2,216.0Z" fill="#ffc03c"/>
<path d="M494.0,222.0Q493.8,220.8 495.4,220.5Q497.0,220.1 497.3,221.5Q497.7,222.9 495.9,223.0Q494.2,223.2 494.0,222.0Z" fill="#ffc03c"/>
</g>
<g clip-path="url(#t02)" shape-rendering="crispEdges">
<rect x="236" y="224" width="110" height="85" fill="#fffaaa"/>
<path d="M239.4,276.2Q240.1,273.5 242.9,270.8Q245.6,268.0 251.1,266.6Q256.6,265.2 263.5,264.6Q270.4,263.9 273.8,264.6Q277.2,265.2 280.0,268.0Q282.8,270.8 284.8,274.9Q286.9,279.0 288.9,282.4Q291.0,285.9 294.4,287.2Q297.9,288.6 302.7,287.6Q307.5,286.6 311.6,285.9Q315.8,285.2 317.1,287.6Q318.5,290.0 321.2,291.4Q324.0,292.8 325.4,295.5Q326.8,298.2 325.4,301.7Q324.0,305.1 321.2,304.4Q318.5,303.8 315.8,303.1Q313.0,302.4 308.9,303.8Q304.8,305.1 301.3,305.8Q297.9,306.5 291.0,305.8Q284.1,305.1 276.6,305.8Q269.0,306.5 268.3,309.2L267.6,312.0L264.2,312.0L260.8,312.0L258.7,307.9Q256.6,303.8 253.2,302.4Q249.8,301.0 247.0,299.6Q244.2,298.2 242.9,295.5Q241.5,292.8 242.2,289.3Q242.9,285.9 240.8,282.4Q238.8,279.0 239.4,276.2Z" fill="#ffe878"/>
<path d="M317.8,221.2L285.5,221.2L288.2,224.7Q291.0,228.1 293.8,231.6Q296.5,235.0 300.6,236.4Q304.8,237.8 307.5,241.2Q310.2,244.6 310.9,248.1Q311.6,251.5 315.1,253.6Q318.5,255.6 319.9,258.4Q321.2,261.1 321.9,264.6Q322.6,268.0 320.6,270.1Q318.5,272.1 318.5,275.6Q318.5,279.0 319.9,281.1Q321.2,283.1 325.4,283.8Q329.5,284.5 333.6,283.8Q337.8,283.1 341.9,281.1Q346.0,279.0 348.1,279.0L350.1,279.0L350.1,250.1L350.1,221.2L317.8,221.2Z" fill="#ffe878"/>
<path d="M239.4,228.1L240.1,221.2L254.6,221.2L269.0,221.2L268.3,224.7Q267.6,228.1 265.6,230.9Q263.5,233.6 262.8,237.1Q262.1,240.5 259.4,241.9Q256.6,243.2 254.6,241.9Q252.5,240.5 251.8,237.8Q251.1,235.0 249.1,233.6Q247.0,232.2 245.6,233.6Q244.2,235.0 244.2,239.1Q244.2,243.2 243.6,247.4Q242.9,251.5 241.5,248.1Q240.1,244.6 239.4,239.8Q238.8,235.0 239.4,228.1Z" fill="#ffe878"/>
<path d="M233.2,226.8L233.2,221.2L236.7,221.2L240.1,221.2L239.8,225.4Q239.4,229.5 238.1,230.9Q236.7,232.2 235.0,232.2L233.2,232.2L233.2,226.8Z" fill="#ffc03c"/>
<path d="M325.4,221.2L310.2,221.2L311.6,224.7Q313.0,228.1 315.8,229.5Q318.5,230.9 317.8,233.6Q317.1,236.4 320.6,235.7Q324.0,235.0 328.1,233.6Q332.2,232.2 333.6,229.5Q335.0,226.8 337.8,224.0L340.5,221.2L325.4,221.2Z" fill="#ffc03c"/>
<path d="M339.8,239.1Q341.9,235.0 346.0,234.3L350.1,233.6L350.1,245.3L350.1,257.0L347.4,258.4Q344.6,259.8 342.6,257.7Q340.5,255.6 338.4,252.9Q336.4,250.1 337.1,246.7Q337.8,243.2 339.8,239.1Z" fill="#ffc03c"/>
<path d="M328.8,272.8Q328.1,270.8 330.2,267.3Q332.2,263.9 335.0,262.5Q337.8,261.1 338.4,263.9Q339.1,266.6 337.1,269.4Q335.0,272.1 334.3,274.9Q333.6,277.6 331.6,276.2Q329.5,274.9 328.8,272.8Z" fill="#ffc03c"/>
<path d="M327.4,221.2L322.6,221.2L324.0,224.0Q325.4,226.8 328.1,227.1Q330.9,227.4 331.6,224.3L332.2,221.2L327.4,221.2Z" fill="#ffa000"/>
<path d="M341.2,303.9Q340.5,302.4 343.2,301.3Q346.0,300.3 348.1,300.7L350.1,301.0L350.1,303.1L350.1,305.1L346.0,305.3Q341.9,305.4 341.2,303.9Z" fill="#ffe878"/>
</g>
<g clip-path="url(#t12)" shape-rendering="crispEdges">
<rect x="346" y="224" width="110" height="85" fill="#ffc03c"/>
<path d="M360.4,226.1L359.8,221.2L375.6,221.2L391.4,221.2L389.3,224.7Q387.2,228.1 384.5,230.2Q381.8,232.2 380.4,235.0Q379.0,237.8 381.8,239.8Q384.5,241.9 383.8,243.9Q383.1,246.0 380.4,246.3Q377.6,246.7 375.6,245.7Q373.5,244.6 370.8,246.7Q368.0,248.8 365.2,249.1Q362.5,249.4 363.2,247.0Q363.9,244.6 361.8,242.6Q359.8,240.5 358.4,238.4Q357.0,236.4 359.1,233.6Q361.1,230.9 360.4,226.1Z" fill="#ffa000"/>
<path d="M398.9,228.5Q398.9,226.8 401.3,226.2Q403.8,225.7 404.6,227.9Q405.4,230.2 403.5,231.4Q401.7,232.5 400.3,231.4Q398.9,230.2 398.9,228.5Z" fill="#ffa000"/>
<path d="M391.4,235.0Q390.7,232.2 392.4,231.7Q394.1,231.2 394.6,233.4Q395.1,235.7 393.6,236.7Q392.1,237.8 391.4,235.0Z" fill="#ffa000"/>
<path d="M449.5,224.7L449.1,221.2L454.6,221.2L460.1,221.2L460.1,225.4L460.1,229.5L457.4,230.2Q454.6,230.9 452.2,229.5Q449.8,228.1 449.5,224.7Z" fill="#ffa000"/>
<path d="M379.2,228.9Q379.0,227.0 380.9,226.9Q382.9,226.8 383.0,228.7Q383.1,230.6 381.3,230.7Q379.4,230.9 379.2,228.9Z" fill="#ffc03c"/>
<path d="M343.2,285.2L343.2,258.4L347.4,259.1Q351.5,259.8 353.6,258.4Q355.6,257.0 358.4,258.4Q361.1,259.8 365.2,260.4Q369.4,261.1 371.4,263.2Q373.5,265.2 377.6,265.2Q381.8,265.2 385.9,268.0Q390.0,270.8 392.1,269.4Q394.1,268.0 395.5,272.1Q396.9,276.2 400.3,278.3Q403.8,280.4 406.5,282.4Q409.2,284.5 410.6,286.6Q412.0,288.6 413.4,290.7Q414.8,292.8 416.1,295.5Q417.5,298.2 418.9,301.7Q420.2,305.1 420.2,308.6L420.2,312.0L381.8,312.0L343.2,312.0L343.2,285.2Z" fill="#ffe878"/>
<path d="M343.2,226.4L343.2,221.2L351.2,221.2L359.1,221.2L358.4,224.7Q357.7,228.1 355.3,229.5Q352.9,230.9 349.4,231.2Q346.0,231.6 344.6,231.6L343.2,231.6L343.2,226.4Z" fill="#ffe878"/>
<path d="M411.4,231.7Q409.5,228.8 411.4,228.3Q413.4,227.7 414.9,230.0Q416.4,232.2 414.9,233.4Q413.4,234.6 411.4,231.7Z" fill="#ffe878"/>
<path d="M430.0,308.6Q429.9,305.1 431.1,304.8Q432.4,304.4 432.6,308.2L432.9,312.0L431.5,312.0L430.1,312.0L430.0,308.6Z" fill="#ffe878"/>
<path d="M343.2,284.5L343.2,277.6L346.7,278.3Q350.1,279.0 352.9,280.4Q355.6,281.8 354.9,284.5Q354.2,287.2 351.5,288.6Q348.8,290.0 346.0,290.7L343.2,291.4L343.2,284.5Z" fill="#fffaaa"/>
<path d="M348.1,302.4Q352.9,301.0 356.3,299.6Q359.8,298.2 363.9,296.9Q368.0,295.5 370.8,294.1Q373.5,292.8 376.2,293.4Q379.0,294.1 381.1,296.9Q383.1,299.6 385.2,302.4Q387.2,305.1 387.2,308.6L387.2,312.0L365.2,312.0L343.2,312.0L343.2,307.9L343.2,303.8L348.1,302.4Z" fill="#fffaaa"/>
</g>
<g clip-path="url(#t22)" shape-rendering="crispEdges">
<rect x="456" y="224" width="110" height="85" fill="#ffc03c"/>
<path d="M491.8,221.2L475.2,221.2L475.9,224.7Q476.6,228.1 480.1,229.5Q483.5,230.9 487.6,230.9Q491.8,230.9 493.8,229.5Q495.9,228.1 499.3,228.8Q502.8,229.5 504.8,228.1Q506.9,226.8 507.6,224.0L508.2,221.2L491.8,221.2Z" fill="#ffa000"/>
<path d="M522.0,221.2L508.2,221.2L508.2,226.1Q508.2,230.9 509.6,234.3Q511.0,237.8 512.4,241.2Q513.8,244.6 515.8,247.4Q517.9,250.1 518.6,253.6Q519.2,257.0 521.3,259.1Q523.4,261.1 524.8,263.2Q526.1,265.2 529.6,265.2Q533.0,265.2 535.8,263.2Q538.5,261.1 539.2,258.4Q539.9,255.6 539.2,252.2Q538.5,248.8 539.9,246.7Q541.2,244.6 543.3,246.0Q545.4,247.4 547.4,248.1Q549.5,248.8 550.2,245.3Q550.9,241.9 551.6,239.1Q552.2,236.4 550.2,235.0Q548.1,233.6 546.1,234.3Q544.0,235.0 541.2,233.6Q538.5,232.2 536.4,230.2Q534.4,228.1 535.1,224.7L535.8,221.2L522.0,221.2Z" fill="#ffa000"/>
<path d="M545.0,256.3Q544.0,252.9 547.4,252.2Q550.9,251.5 551.6,254.2Q552.2,257.0 550.9,259.8Q549.5,262.5 547.8,261.1Q546.1,259.8 545.0,256.3Z" fill="#ffa000"/>
<path d="M486.0,265.0Q485.1,262.5 487.1,261.3Q489.0,260.0 493.1,261.5Q497.2,262.9 498.1,264.8Q498.9,266.6 496.0,267.8Q493.1,269.0 490.0,268.3Q486.9,267.6 486.0,265.0Z" fill="#ffa000"/>
<path d="M498.8,277.1Q497.7,274.9 499.5,274.2Q501.4,273.5 502.8,275.2Q504.1,276.9 502.1,278.1Q500.0,279.3 498.8,277.1Z" fill="#ffa000"/>
<path d="M515.7,280.5Q514.9,277.6 517.0,274.7Q519.2,271.9 522.1,271.5Q525.0,271.2 524.7,275.1Q524.3,279.0 524.0,281.2Q523.6,283.4 520.1,283.4Q516.5,283.4 515.7,280.5Z" fill="#ffa000"/>
<path d="M467.9,296.3Q466.0,292.8 467.9,291.8Q469.8,290.8 471.6,292.5Q473.5,294.1 473.8,296.7Q474.1,299.2 471.9,299.6Q469.8,299.9 467.9,296.3Z" fill="#ffa000"/>
<path d="M510.9,254.4Q510.0,252.2 511.2,251.7Q512.4,251.2 513.3,254.1Q514.3,257.0 513.0,256.8Q511.7,256.6 510.9,254.4Z" fill="#ffa000"/>
<path d="M506.5,239.3Q503.9,236.4 506.1,234.2Q508.2,232.0 509.1,234.9Q509.9,237.8 509.6,239.9Q509.2,242.2 506.5,239.3Z" fill="#ffa000"/>
<path d="M453.2,224.7L453.2,221.2L460.1,221.2L467.0,221.2L466.3,224.0Q465.6,226.8 462.9,227.1Q460.1,227.4 456.7,227.8L453.2,228.1L453.2,224.7Z" fill="#ffa000"/>
<path d="M559.1,226.8L559.1,221.2L564.6,221.2L570.1,221.2L570.1,229.5L570.1,237.8L566.0,237.8Q561.9,237.8 560.5,235.0Q559.1,232.2 559.1,226.8Z" fill="#ffa000"/>
<path d="M550.2,244.3Q550.9,241.9 554.3,241.7Q557.8,241.6 558.1,244.5Q558.4,247.4 556.0,248.4Q553.6,249.4 551.6,248.1Q549.5,246.7 550.2,244.3Z" fill="#ffa000"/>
<path d="M497.5,239.3Q497.2,237.8 499.2,237.4Q501.1,237.1 501.2,238.6Q501.4,240.2 499.5,240.5Q497.7,240.8 497.5,239.3Z" fill="#ffa000"/>
<path d="M557.2,276.2Q557.1,275.1 558.4,275.0Q559.8,274.9 560.0,275.9Q560.1,276.9 558.7,277.1Q557.3,277.2 557.2,276.2Z" fill="#fffaaa"/>
</g>
<g clip-path="url(#t03)" shape-rendering="crispEdges">
<rect x="236" y="309" width="110" height="85" fill="#fffaaa"/>
<path d="M293.1,306.2L266.2,306.2L266.6,309.0Q266.9,311.8 270.0,312.8Q273.1,313.8 276.6,315.5Q280.0,317.2 282.1,315.9Q284.1,314.5 287.6,315.5Q291.0,316.6 293.8,317.6Q296.5,318.6 297.9,320.7Q299.2,322.8 299.9,324.8Q300.6,326.9 303.4,327.6Q306.1,328.2 306.8,325.5Q307.5,322.8 308.2,320.0Q308.9,317.2 311.6,316.6Q314.4,315.9 316.4,315.2Q318.5,314.5 319.2,310.4L319.9,306.2L293.1,306.2Z" fill="#ffe878"/>
<path d="M314.2,333.5Q313.4,332.4 315.3,331.2Q317.1,330.0 317.8,328.0Q318.5,325.9 320.0,325.6Q321.5,325.2 321.5,329.5Q321.5,333.8 320.0,334.9Q318.5,336.1 316.8,335.4Q315.1,334.7 314.2,333.5Z" fill="#ffe878"/>
<path d="M233.2,362.6L233.2,328.2L236.7,328.6Q240.1,328.9 242.2,330.7Q244.2,332.4 247.0,335.1Q249.8,337.9 253.2,340.3Q256.6,342.7 259.4,343.0Q262.1,343.4 262.5,339.9Q262.8,336.5 264.2,336.5Q265.6,336.5 265.6,339.6Q265.6,342.7 271.4,343.0Q277.2,343.4 278.3,346.1Q279.3,348.9 280.3,352.3Q281.4,355.8 282.8,358.2Q284.1,360.6 283.4,362.6Q282.8,364.7 284.8,367.1Q286.9,369.5 289.6,371.9Q292.4,374.3 295.1,375.3Q297.9,376.4 299.9,378.4Q302.0,380.5 304.1,379.8Q306.1,379.1 306.8,381.2Q307.5,383.2 310.2,386.0Q313.0,388.8 315.8,389.8Q318.5,390.8 321.2,392.4Q324.0,394.0 324.0,395.5L324.0,397.0L278.6,397.0L233.2,397.0L233.2,362.6Z" fill="#37d23c"/>
</g>
<g clip-path="url(#t13)" shape-rendering="crispEdges">
<rect x="346" y="309" width="110" height="85" fill="#ffe878"/>
<path d="M343.2,327.2L343.2,311.8L347.4,312.1Q351.5,312.4 353.6,314.8Q355.6,317.2 354.2,320.0Q352.9,322.8 353.6,325.5Q354.2,328.2 357.0,330.3Q359.8,332.4 360.4,334.4Q361.1,336.5 358.4,338.6Q355.6,340.6 352.2,341.3Q348.8,342.0 346.0,342.3L343.2,342.7L343.2,327.2Z" fill="#fffaaa"/>
<path d="M343.2,381.2L343.2,365.4L348.8,365.0Q354.2,364.7 358.4,365.0Q362.5,365.4 366.6,365.7Q370.8,366.1 374.2,367.1Q377.6,368.1 376.2,370.9Q374.9,373.6 376.2,375.7Q377.6,377.8 378.3,379.8Q379.0,381.9 376.2,383.9Q373.5,386.0 372.8,388.8Q372.1,391.5 372.8,394.2L373.5,397.0L358.4,397.0L343.2,397.0L343.2,381.2Z" fill="#fffaaa"/>
<path d="M440.2,306.2L420.2,306.2L421.6,309.7Q423.0,313.1 422.7,316.6Q422.3,320.0 422.0,323.4Q421.6,326.9 422.3,330.3Q423.0,333.8 424.0,336.5Q425.1,339.2 424.0,341.3Q423.0,343.4 425.8,344.8Q428.5,346.1 431.9,346.8Q435.4,347.5 438.8,348.2Q442.2,348.9 443.6,350.2Q445.0,351.6 442.9,354.4Q440.9,357.1 438.1,359.2Q435.4,361.2 431.9,362.6Q428.5,364.0 425.8,365.4Q423.0,366.8 420.2,368.1Q417.5,369.5 414.8,370.9Q412.0,372.2 409.2,371.6Q406.5,370.9 403.8,371.6Q401.0,372.2 398.9,370.9Q396.9,369.5 394.1,369.5Q391.4,369.5 390.7,372.2Q390.0,375.0 390.0,379.1Q390.0,383.2 390.0,390.1L390.0,397.0L425.1,397.0L460.1,397.0L460.1,351.6L460.1,306.2L440.2,306.2Z" fill="#ffc03c"/>
<path d="M452.2,316.6Q452.6,313.1 454.3,312.4Q456.0,311.8 458.1,312.4L460.1,313.1L460.1,319.3L460.1,325.5L457.4,324.8Q454.6,324.1 453.2,322.1Q451.9,320.0 452.2,316.6Z" fill="#ffa000"/>
<path d="M423.0,397.0L417.5,397.0L418.2,394.2Q418.9,391.5 423.7,390.8Q428.5,390.1 431.2,388.8Q434.0,387.4 438.1,386.7Q442.2,386.0 445.3,385.7Q448.4,385.3 448.1,387.0Q447.8,388.8 444.3,390.1Q440.9,391.5 437.4,392.2Q434.0,392.9 431.2,394.9L428.5,397.0L423.0,397.0Z" fill="#ffa000"/>
<path d="M448.0,381.3Q446.8,379.8 449.0,379.3Q451.2,378.9 452.4,380.0Q453.5,381.2 451.3,382.0Q449.1,382.8 448.0,381.3Z" fill="#ffa000"/>
<path d="M437.6,333.2Q437.2,331.0 438.7,328.7Q440.2,326.5 441.4,328.0Q442.5,329.6 441.8,332.2Q441.1,334.7 439.6,335.1Q438.1,335.4 437.6,333.2Z" fill="#ffe878"/>
<path d="M434.6,342.0Q433.7,340.6 436.6,340.4Q439.5,340.1 443.1,341.4Q446.6,342.7 444.4,343.5Q442.2,344.3 438.8,343.9Q435.4,343.4 434.6,342.0Z" fill="#ffe878"/>
<path d="M431.9,306.2L428.5,306.2L429.2,309.7Q429.9,313.1 431.9,314.2Q434.0,315.2 435.4,313.5Q436.8,311.8 436.1,309.0L435.4,306.2L431.9,306.2Z" fill="#ffe878"/>
<path d="M439.4,320.6Q439.2,318.9 440.7,318.6Q442.2,318.4 442.4,320.2Q442.5,322.1 441.0,322.2Q439.5,322.3 439.4,320.6Z" fill="#ffe878"/>
<path d="M409.1,389.0Q409.0,387.6 410.5,387.4Q412.0,387.1 412.1,388.6Q412.3,390.1 410.8,390.3Q409.2,390.4 409.1,389.0Z" fill="#ffe878"/>
<path d="M400.0,367.2Q399.1,365.4 400.7,364.6Q402.4,363.7 403.3,365.6Q404.3,367.4 402.6,368.3Q401.0,369.1 400.0,367.2Z" fill="#ffc03c"/>
<path d="M346.7,392.9Q347.4,388.8 349.4,386.6Q351.5,384.4 353.6,386.2Q355.6,388.1 357.7,389.1Q359.8,390.1 361.1,393.6L362.5,397.0L354.2,397.0L346.0,397.0L346.7,392.9Z" fill="#37d23c"/>
</g>
<g clip-path="url(#t23)" shape-rendering="crispEdges">
<rect x="456" y="309" width="110" height="85" fill="#ffc03c"/>
<path d="M453.2,320.0L453.2,313.1L456.7,313.5Q460.1,313.8 461.8,316.2Q463.6,318.6 462.5,321.4Q461.5,324.1 459.4,325.5Q457.4,326.9 455.3,326.9L453.2,326.9L453.2,320.0Z" fill="#ffa000"/>
<path d="M489.7,306.2L486.2,306.2L486.9,309.0Q487.6,311.8 489.7,313.1Q491.8,314.5 494.2,315.9Q496.6,317.2 496.2,315.2Q495.9,313.1 494.5,309.7L493.1,306.2L489.7,306.2Z" fill="#ffa000"/>
<path d="M475.4,309.0L475.2,306.2L477.0,306.2L478.7,306.2L478.7,308.9Q478.7,311.5 477.1,311.6Q475.5,311.8 475.4,309.0Z" fill="#ffa000"/>
<path d="M469.6,329.4Q468.8,326.9 471.0,324.3Q473.2,321.6 476.1,324.3Q479.1,326.9 476.5,328.4Q473.9,329.9 472.2,330.9Q470.4,332.0 469.6,329.4Z" fill="#ffa000"/>
<path d="M460.0,342.1Q458.5,340.6 460.3,339.1Q462.2,337.6 463.7,338.8Q465.2,339.9 463.4,341.8Q461.5,343.6 460.0,342.1Z" fill="#ffa000"/>
<path d="M472.0,347.6Q471.5,344.8 473.1,342.1Q474.6,339.5 476.8,341.8Q479.0,344.1 477.9,346.6Q476.9,349.1 474.7,349.8Q472.5,350.5 472.0,347.6Z" fill="#ffa000"/>
<path d="M466.0,347.8Q465.6,345.4 467.9,345.1Q470.2,344.8 470.3,347.4Q470.4,350.0 468.4,350.1Q466.3,350.2 466.0,347.8Z" fill="#ffa000"/>
<path d="M458.9,350.0Q458.8,348.2 461.4,347.8Q464.0,347.5 464.1,349.4Q464.2,351.4 461.6,351.6Q459.0,351.9 458.9,350.0Z" fill="#ffa000"/>
<path d="M535.4,350.2Q535.8,347.5 536.4,343.4Q537.1,339.2 539.9,337.5Q542.6,335.8 546.1,335.1Q549.5,334.4 552.6,335.5Q555.7,336.5 556.4,339.9Q557.1,343.4 556.4,346.1Q555.7,348.9 555.3,351.6Q555.0,354.4 552.9,356.4Q550.9,358.5 548.8,361.2Q546.8,364.0 544.0,363.7Q541.2,363.3 539.2,363.7Q537.1,364.0 535.8,361.9Q534.4,359.9 534.7,356.4Q535.1,353.0 535.4,350.2Z" fill="#ffa000"/>
<path d="M536.0,330.8Q533.4,326.9 536.0,326.4Q538.5,325.9 541.0,327.1Q543.6,328.2 543.2,331.1Q542.9,334.0 540.7,334.4Q538.5,334.7 536.0,330.8Z" fill="#ffa000"/>
<path d="M511.3,367.8Q510.3,366.8 510.7,362.6Q511.0,358.5 513.1,355.8Q515.1,353.0 517.9,352.3Q520.6,351.6 522.7,353.7Q524.8,355.8 525.4,359.2Q526.1,362.6 523.4,363.3Q520.6,364.0 518.6,366.1Q516.5,368.1 514.4,368.5Q512.4,368.8 511.3,367.8Z" fill="#ffa000"/>
<path d="M528.0,364.1Q527.2,361.2 530.1,360.4Q533.0,359.6 533.5,362.8Q534.0,366.1 531.4,366.5Q528.9,367.0 528.0,364.1Z" fill="#ffa000"/>
<path d="M522.2,342.1Q520.4,340.6 521.9,339.1Q523.4,337.6 524.9,338.8Q526.4,339.9 525.2,341.8Q524.1,343.6 522.2,342.1Z" fill="#ffa000"/>
<path d="M519.2,332.2Q519.0,329.6 521.7,329.3Q524.5,328.9 524.6,331.6Q524.8,334.2 522.1,334.4Q519.5,334.7 519.2,332.2Z" fill="#ffa000"/>
<path d="M549.5,373.6Q548.1,372.2 550.2,369.5Q552.2,366.8 555.0,365.4Q557.8,364.0 560.5,364.7Q563.2,365.4 563.9,370.2Q564.6,375.0 561.2,376.4Q557.8,377.8 554.3,376.4Q550.9,375.0 549.5,373.6Z" fill="#ffa000"/>
<path d="M519.9,392.9Q519.2,388.8 522.0,387.4Q524.8,386.0 528.9,385.0Q533.0,383.9 535.1,385.0Q537.1,386.0 536.4,388.8Q535.8,391.5 533.0,394.2L530.2,397.0L525.4,397.0L520.6,397.0L519.9,392.9Z" fill="#ffa000"/>
<path d="M558.6,325.3Q558.4,322.1 561.5,321.7Q564.6,321.4 564.6,324.8Q564.6,328.2 561.7,328.4Q558.9,328.5 558.6,325.3Z" fill="#ffa000"/>
<path d="M506.7,373.6Q506.6,369.5 508.1,369.4Q509.6,369.2 509.8,373.5Q509.9,377.8 508.4,377.8Q506.9,377.8 506.7,373.6Z" fill="#ffa000"/>
<path d="M510.9,321.0Q510.0,319.7 511.9,320.6Q513.8,321.4 515.6,320.2Q517.5,319.0 516.4,321.4Q515.4,323.7 513.5,323.0Q511.7,322.3 510.9,321.0Z" fill="#fffaaa"/>
<path d="M502.9,349.2Q502.8,348.2 504.8,348.1Q506.9,347.9 507.0,349.1Q507.1,350.2 505.1,350.2Q503.0,350.2 502.9,349.2Z" fill="#fffaaa"/>
<path d="M478.8,352.0Q478.7,350.9 480.4,350.8Q482.1,350.7 482.3,351.8Q482.4,353.0 480.7,353.0Q479.0,353.0 478.8,352.0Z" fill="#fffaaa"/>
<path d="M559.3,381.7Q559.1,380.2 561.2,380.0Q563.2,379.8 563.4,381.5Q563.5,383.2 561.5,383.2Q559.4,383.2 559.3,381.7Z" fill="#fffaaa"/>
<path d="M483.5,394.2Q483.5,391.5 485.6,391.4Q487.6,391.2 488.0,394.1L488.3,397.0L485.9,397.0L483.5,397.0L483.5,394.2Z" fill="#fffaaa"/>
</g>
<g clip-path="url(#t04)" shape-rendering="crispEdges">
<rect x="236" y="394" width="110" height="85" fill="#37d23c"/>
<path d="M333.6,391.2L317.1,391.2L319.2,394.0Q321.2,396.8 323.3,398.8Q325.4,400.9 326.1,402.9Q326.8,405.0 330.2,405.7Q333.6,406.4 334.3,409.1Q335.0,411.9 337.1,412.6Q339.1,413.2 340.5,415.7Q341.9,418.1 343.9,418.4Q346.0,418.8 345.3,422.2Q344.6,425.6 343.9,427.7Q343.2,429.8 346.7,429.8L350.1,429.8L350.1,410.5L350.1,391.2L333.6,391.2Z" fill="#fffaaa"/>
<path d="M233.2,456.6L233.2,431.1L236.7,430.8Q240.1,430.4 243.6,427.7Q247.0,424.9 250.4,424.6Q253.9,424.2 255.2,422.9Q256.6,421.5 254.6,420.1Q252.5,418.8 251.8,416.7Q251.1,414.6 254.6,415.0Q258.0,415.3 258.7,417.7Q259.4,420.1 260.8,422.9Q262.1,425.6 264.9,427.0Q267.6,428.4 268.3,425.6Q269.0,422.9 271.1,422.5Q273.1,422.2 275.2,424.2Q277.2,426.3 280.7,424.6Q284.1,422.9 286.9,422.5Q289.6,422.2 292.4,423.6Q295.1,424.9 296.5,426.7Q297.9,428.4 297.2,430.1Q296.5,431.8 298.6,433.5Q300.6,435.2 302.0,437.3Q303.4,439.4 306.8,439.7Q310.2,440.1 313.7,441.8Q317.1,443.5 320.6,445.2Q324.0,446.9 327.4,447.3Q330.9,447.6 331.6,451.1Q332.2,454.5 334.3,457.2Q336.4,460.0 337.8,464.1Q339.1,468.2 340.5,472.4Q341.9,476.5 343.2,479.2L344.6,482.0L288.9,482.0L233.2,482.0L233.2,456.6Z" fill="#78f573"/>
<path d="M233.2,475.8L233.2,469.6L238.1,468.2Q242.9,466.9 246.3,464.5Q249.8,462.1 253.2,460.3Q256.6,458.6 257.3,456.6Q258.0,454.5 260.8,453.8Q263.5,453.1 263.2,451.1Q262.8,449.0 266.6,448.0Q270.4,446.9 273.1,447.3Q275.9,447.6 277.2,446.9Q278.6,446.2 280.7,447.3Q282.8,448.3 285.5,449.7Q288.2,451.1 291.7,452.8Q295.1,454.5 299.9,454.5Q304.8,454.5 307.5,455.5Q310.2,456.6 313.7,459.0Q317.1,461.4 319.9,463.4Q322.6,465.5 326.1,468.2Q329.5,471.0 330.9,473.8Q332.2,476.5 332.9,479.2L333.6,482.0L283.4,482.0L233.2,482.0L233.2,475.8Z" fill="#b4faaa"/>
<path d="M275.4,453.3Q274.9,451.8 276.4,450.2Q277.9,448.7 279.8,450.9Q281.6,453.1 280.5,455.0Q279.3,456.8 277.6,455.8Q275.9,454.8 275.4,453.3Z" fill="#78f573"/>
</g>
<g clip-path="url(#t14)" shape-rendering="crispEdges">
<rect x="346" y="394" width="110" height="85" fill="#ffc03c"/>
<path d="M420.9,482.0L381.8,482.0L382.4,476.5Q383.1,471.0 383.8,466.9Q384.5,462.8 385.9,460.0Q387.2,457.2 390.0,456.6Q392.8,455.9 395.5,457.2Q398.2,458.6 401.0,459.3Q403.8,460.0 405.1,457.2Q406.5,454.5 408.6,453.1Q410.6,451.8 412.7,453.1Q414.8,454.5 415.4,451.8Q416.1,449.0 418.2,449.0Q420.2,449.0 421.6,451.8Q423.0,454.5 425.8,455.2Q428.5,455.9 431.2,457.2Q434.0,458.6 436.8,459.3Q439.5,460.0 442.2,459.3Q445.0,458.6 447.8,457.2Q450.5,455.9 453.2,455.2Q456.0,454.5 458.1,454.5L460.1,454.5L460.1,468.2L460.1,482.0L420.9,482.0Z" fill="#ffa000"/>
<path d="M395.5,408.4Q394.1,405.0 396.2,404.3Q398.2,403.6 401.0,405.7Q403.8,407.8 405.1,410.5Q406.5,413.2 408.6,414.6Q410.6,416.0 412.7,417.4Q414.8,418.8 416.1,420.8Q417.5,422.9 416.1,424.9Q414.8,427.0 410.6,426.7Q406.5,426.3 403.8,424.6Q401.0,422.9 400.3,420.1Q399.6,417.4 398.2,414.6Q396.9,411.9 395.5,408.4Z" fill="#ffa000"/>
<path d="M406.6,434.6Q406.2,432.5 408.4,430.3Q410.6,428.1 414.2,428.4Q417.8,428.8 419.5,432.0Q421.2,435.2 420.9,438.8Q420.5,442.4 417.6,443.4Q414.8,444.5 412.0,443.1Q409.2,441.7 408.1,439.2Q406.9,436.6 406.6,434.6Z" fill="#ffa000"/>
<path d="M424.4,391.2L414.8,391.2L415.4,394.7Q416.1,398.1 418.2,400.2Q420.2,402.2 421.6,403.6Q423.0,405.0 424.4,402.2Q425.8,399.5 428.5,398.8Q431.2,398.1 432.6,394.7L434.0,391.2L424.4,391.2Z" fill="#ffa000"/>
<path d="M413.6,411.5Q413.4,408.4 415.3,408.1Q417.2,407.8 417.5,411.1Q417.8,414.4 415.8,414.5Q413.8,414.6 413.6,411.5Z" fill="#ffa000"/>
<path d="M398.9,482.0L392.8,482.0L393.4,477.9Q394.1,473.8 395.2,469.6Q396.2,465.5 397.2,464.0Q398.2,462.5 399.6,465.4Q401.0,468.2 402.4,471.0Q403.8,473.8 404.4,477.9L405.1,482.0L398.9,482.0Z" fill="#ff6000"/>
<path d="M422.3,482.0L414.8,482.0L415.4,476.5Q416.1,471.0 417.5,466.9Q418.9,462.8 420.2,460.6Q421.6,458.4 423.7,459.9Q425.8,461.4 426.1,464.8Q426.4,468.2 427.5,471.7Q428.5,475.1 429.2,478.6L429.9,482.0L422.3,482.0Z" fill="#ff6000"/>
<path d="M445.2,468.7Q444.7,466.9 446.6,465.4Q448.4,463.9 449.9,465.0Q451.5,466.2 450.8,468.7Q450.1,471.3 447.9,470.9Q445.7,470.6 445.2,468.7Z" fill="#ff6000"/>
<path d="M386.1,464.5Q385.9,462.1 388.5,461.7Q391.1,461.4 391.2,464.0Q391.4,466.6 388.8,466.7Q386.3,466.9 386.1,464.5Z" fill="#ff6000"/>
<path d="M373.5,396.8L376.2,391.2L383.8,391.2L391.4,391.2L391.4,396.8Q391.4,402.2 389.3,404.3Q387.2,406.4 387.2,409.1Q387.2,411.9 388.6,415.3Q390.0,418.8 390.7,422.2Q391.4,425.6 392.8,429.1Q394.1,432.5 395.5,435.9Q396.9,439.4 397.9,442.8Q398.9,446.2 398.6,449.7Q398.2,453.1 395.5,453.8Q392.8,454.5 389.3,453.8Q385.9,453.1 382.4,453.8Q379.0,454.5 376.9,455.9Q374.9,457.2 373.5,460.0Q372.1,462.8 370.8,466.9Q369.4,471.0 368.7,476.5L368.0,482.0L365.9,482.0L363.9,482.0L365.2,475.1Q366.6,468.2 368.0,462.1Q369.4,455.9 370.1,451.1Q370.8,446.2 369.4,440.8Q368.0,435.2 368.7,428.4Q369.4,421.5 368.0,416.0Q366.6,410.5 368.7,406.4Q370.8,402.2 373.5,396.8Z" fill="#ffe878"/>
<path d="M369.7,397.4L370.8,391.2L373.5,391.2L376.2,391.2L376.9,396.8Q377.6,402.2 379.0,405.0Q380.4,407.8 379.7,411.2Q379.0,414.6 377.6,416.7Q376.2,418.8 378.3,420.8Q380.4,422.9 381.8,426.3Q383.1,429.8 385.2,433.2Q387.2,436.6 389.3,439.4Q391.4,442.1 390.7,445.6Q390.0,449.0 387.2,449.7Q384.5,450.4 381.1,449.7Q377.6,449.0 375.6,446.9Q373.5,444.9 372.1,441.4Q370.8,438.0 369.7,433.9Q368.7,429.8 369.4,425.6Q370.1,421.5 368.3,416.7Q366.6,411.9 367.7,407.8Q368.7,403.6 369.7,397.4Z" fill="#fffaaa"/>
<path d="M343.2,409.5L343.2,391.2L346.0,391.2L348.8,391.2L349.4,396.8Q350.1,402.2 351.2,405.0Q352.2,407.8 352.5,412.6Q352.9,417.4 352.9,422.2Q352.9,427.0 348.1,427.3L343.2,427.7L343.2,409.5Z" fill="#fffaaa"/>
<path d="M348.8,398.1L347.4,391.2L359.1,391.2L370.8,391.2L370.1,396.8Q369.4,402.2 368.0,405.7Q366.6,409.1 369.0,410.5Q371.4,411.9 371.1,415.3Q370.8,418.8 369.7,422.9Q368.7,427.0 369.4,431.1Q370.1,435.2 371.1,438.7Q372.1,442.1 373.8,444.2Q375.6,446.2 373.8,447.6Q372.1,449.0 370.8,451.8Q369.4,454.5 368.0,458.6Q366.6,462.8 365.9,466.9Q365.2,471.0 363.9,476.5L362.5,482.0L352.9,482.0L343.2,482.0L343.2,455.2L343.2,428.4L347.4,428.0Q351.5,427.7 352.9,424.6Q354.2,421.5 353.2,416.7Q352.2,411.9 351.2,408.4Q350.1,405.0 348.8,398.1Z" fill="#37d23c"/>
<path d="M361.7,448.3Q360.9,444.9 363.1,443.4Q365.2,441.9 368.1,444.1Q371.0,446.2 370.7,449.7Q370.3,453.1 368.5,455.3Q366.6,457.5 364.6,454.6Q362.5,451.8 361.7,448.3Z" fill="#78f573"/>
<path d="M355.6,482.0L348.8,482.0L350.1,477.9Q351.5,473.8 353.6,471.6Q355.6,469.4 357.7,471.6Q359.8,473.8 361.1,477.9L362.5,482.0L355.6,482.0Z" fill="#78f573"/>
</g>
<g clip-path="url(#t24)" shape-rendering="crispEdges">
<rect x="456" y="394" width="110" height="85" fill="#ffc03c"/>
<path d="M453.2,457.2L453.2,454.5L457.4,451.8Q461.5,449.0 464.2,446.2Q467.0,443.5 469.1,440.8Q471.1,438.0 473.9,435.9Q476.6,433.9 480.1,431.8Q483.5,429.8 487.6,428.4Q491.8,427.0 495.9,425.6Q500.0,424.2 503.4,422.9Q506.9,421.5 508.9,419.4Q511.0,417.4 511.7,413.9Q512.4,410.5 513.8,408.4Q515.1,406.4 517.9,404.3Q520.6,402.2 524.1,401.6Q527.5,400.9 530.2,402.2Q533.0,403.6 533.0,407.1Q533.0,410.5 535.1,413.2Q537.1,416.0 540.6,417.4Q544.0,418.8 544.7,420.1Q545.4,421.5 541.9,422.2Q538.5,422.9 535.8,424.2Q533.0,425.6 530.2,427.7Q527.5,429.8 526.1,432.5Q524.8,435.2 521.3,436.6Q517.9,438.0 514.4,439.4Q511.0,440.8 508.9,442.1Q506.9,443.5 504.8,444.9Q502.8,446.2 500.0,445.6Q497.2,444.9 495.2,446.2Q493.1,447.6 491.1,449.0Q489.0,450.4 486.2,451.1Q483.5,451.8 480.1,453.1Q476.6,454.5 473.2,455.2Q469.8,455.9 467.0,457.2Q464.2,458.6 460.1,459.3Q456.0,460.0 454.6,460.0L453.2,460.0L453.2,457.2Z" fill="#ffa000"/>
<path d="M453.2,471.7L453.2,461.4L457.4,461.5Q461.5,461.6 462.2,464.9Q462.9,468.2 462.5,475.1L462.2,482.0L457.7,482.0L453.2,482.0L453.2,471.7Z" fill="#ffa000"/>
<path d="M489.2,452.6Q488.0,449.0 489.9,447.5Q491.8,446.0 493.9,447.1Q496.1,448.3 495.7,451.4Q495.2,454.5 492.8,455.3Q490.4,456.1 489.2,452.6Z" fill="#ffa000"/>
<path d="M545.9,429.4Q545.1,426.3 547.3,425.1Q549.5,424.0 551.0,425.8Q552.5,427.7 551.7,430.2Q550.9,432.8 548.8,432.6Q546.8,432.5 545.9,429.4Z" fill="#ffa000"/>
<path d="M548.3,407.5Q547.9,405.7 549.7,405.2Q551.6,404.7 552.0,406.6Q552.5,408.4 550.7,408.9Q548.8,409.4 548.3,407.5Z" fill="#ffa000"/>
<path d="M474.6,442.0Q473.9,440.8 476.3,440.2Q478.7,439.6 479.4,440.9Q480.1,442.1 477.7,442.7Q475.2,443.2 474.6,442.0Z" fill="#ffc03c"/>
<path d="M495.2,433.1Q494.5,431.1 496.6,430.6Q498.6,430.0 499.3,431.9Q500.0,433.9 497.9,434.4Q495.9,435.0 495.2,433.1Z" fill="#ffc03c"/>
<path d="M466.0,415.0Q463.6,413.2 466.0,410.5Q468.4,407.8 469.8,405.3Q471.1,402.9 473.9,402.6Q476.6,402.2 479.4,401.6Q482.1,400.9 482.8,397.4Q483.5,394.0 485.9,394.7Q488.3,395.4 488.3,398.1Q488.3,400.9 485.9,402.9Q483.5,405.0 482.1,407.1Q480.8,409.1 478.7,410.5Q476.6,411.9 475.2,414.3Q473.9,416.7 471.1,416.7Q468.4,416.7 466.0,415.0Z" fill="#ffe878"/>
<path d="M506.2,465.5Q508.2,462.8 508.9,460.0Q509.6,457.2 512.4,455.9Q515.1,454.5 518.6,453.1Q522.0,451.8 525.4,450.4Q528.9,449.0 530.9,447.6Q533.0,446.2 535.8,447.6Q538.5,449.0 541.2,448.3Q544.0,447.6 546.8,446.9Q549.5,446.2 550.9,449.0Q552.2,451.8 552.2,457.2Q552.2,462.8 551.6,466.9Q550.9,471.0 551.6,476.5L552.2,482.0L526.1,482.0L500.0,482.0L500.7,477.9Q501.4,473.8 502.8,471.0Q504.1,468.2 506.2,465.5Z" fill="#ffe878"/>
<path d="M550.9,444.9Q549.5,440.8 552.2,440.1Q555.0,439.4 557.8,438.7Q560.5,438.0 565.3,438.0L570.1,438.0L570.1,460.0L570.1,482.0L561.2,482.0L552.2,482.0L553.6,472.4Q555.0,462.8 553.6,455.9Q552.2,449.0 550.9,444.9Z" fill="#ffe878"/>
<path d="M522.0,480.6L522.0,479.2L524.8,477.2Q527.5,475.1 530.2,471.7Q533.0,468.2 535.1,465.5Q537.1,462.8 539.2,463.4Q541.2,464.1 542.6,467.6Q544.0,471.0 544.7,476.5L545.4,482.0L533.7,482.0L522.0,482.0L522.0,480.6Z" fill="#fffaaa"/>
<path d="M554.0,454.5Q552.9,449.0 554.7,448.3Q556.4,447.6 557.8,450.4Q559.1,453.1 559.8,457.9Q560.5,462.8 561.2,466.9Q561.9,471.0 561.2,476.5L560.5,482.0L557.8,482.0L555.0,482.0L555.7,476.5Q556.4,471.0 555.7,465.5Q555.0,460.0 554.0,454.5Z" fill="#fffaaa"/>
<path d="M517.0,411.9Q514.9,407.8 516.0,407.4Q517.2,407.1 519.2,410.8Q521.3,414.6 523.0,418.8Q524.8,422.9 523.9,423.2Q523.1,423.6 521.2,419.8Q519.2,416.0 517.0,411.9Z" fill="#ff6000"/>
</g>
<g clip-path="url(#t05)" shape-rendering="crispEdges">
<rect x="236" y="479" width="110" height="85" fill="#e1ffff"/>
<path d="M233.2,487.9L233.2,476.2L259.4,476.2L285.5,476.2L284.1,479.0Q282.8,481.8 280.0,483.1Q277.2,484.5 274.5,486.6Q271.8,488.6 270.4,490.0Q269.0,491.4 265.6,490.3Q262.1,489.3 259.4,489.0Q256.6,488.6 253.9,490.0Q251.1,491.4 250.1,494.1Q249.1,496.9 246.0,497.9Q242.9,498.9 238.1,499.3L233.2,499.6L233.2,487.9Z" fill="#b4faaa"/>
<path d="M319.2,476.2L288.2,476.2L289.6,479.7Q291.0,483.1 292.4,485.9Q293.8,488.6 297.2,491.4Q300.6,494.1 303.4,496.2Q306.1,498.2 308.9,500.0Q311.6,501.7 315.1,501.7Q318.5,501.7 321.9,502.0Q325.4,502.4 328.8,502.7Q332.2,503.1 335.0,504.8Q337.8,506.5 340.5,507.5Q343.2,508.6 346.7,508.2L350.1,507.9L350.1,492.1L350.1,476.2L319.2,476.2Z" fill="#b4faaa"/>
<path d="M259.9,507.0Q258.4,505.1 259.6,502.6Q260.8,500.0 262.8,499.4Q264.9,498.7 266.7,500.5Q268.6,502.4 267.1,505.6Q265.6,508.8 263.5,508.8Q261.4,508.8 259.9,507.0Z" fill="#b4faaa"/>
<path d="M334.3,494.8Q332.2,492.8 333.6,489.3Q335.0,485.9 335.0,481.1L335.0,476.2L342.6,476.2L350.1,476.2L350.1,485.2L350.1,494.1L346.7,495.5Q343.2,496.9 339.8,496.9Q336.4,496.9 334.3,494.8Z" fill="#78f573"/>
<path d="M301.3,518.2Q301.3,516.1 302.3,518.2Q303.4,520.2 305.4,522.3Q307.5,524.4 310.2,525.4Q313.0,526.4 315.8,526.1Q318.5,525.8 321.9,526.1Q325.4,526.4 328.1,525.4Q330.9,524.4 328.8,524.0Q326.8,523.7 325.4,522.0Q324.0,520.2 322.6,518.2Q321.2,516.1 320.2,514.4Q319.2,512.7 321.6,512.7Q324.0,512.7 326.8,512.3Q329.5,512.0 332.2,513.7Q335.0,515.4 336.7,517.8Q338.4,520.2 340.2,521.3Q341.9,522.3 343.9,520.6Q346.0,518.9 348.1,518.9L350.1,518.9L350.1,542.9L350.1,567.0L328.1,567.0L306.1,567.0L305.4,561.5Q304.8,556.0 304.1,553.2Q303.4,550.5 304.8,547.8Q306.1,545.0 306.1,540.9Q306.1,536.8 305.8,533.3Q305.4,529.9 304.4,527.1Q303.4,524.4 302.3,522.3Q301.3,520.2 301.3,518.2Z" fill="#96d2fa"/>
<path d="M291.6,532.8Q290.7,531.2 292.9,531.0Q295.1,530.7 297.9,531.7Q300.6,532.6 301.3,533.7Q302.0,534.7 299.2,535.3Q296.5,535.9 294.4,535.1Q292.4,534.3 291.6,532.8Z" fill="#96d2fa"/>
<path d="M315.1,563.9Q315.1,560.8 319.9,560.6Q324.7,560.4 324.9,563.7L325.1,567.0L320.1,567.0L315.1,567.0L315.1,563.9Z" fill="#e1ffff"/>
<path d="M343.9,542.9Q343.2,536.8 344.3,528.5Q345.3,520.2 347.7,520.2L350.1,520.2L350.1,535.4L350.1,550.5L347.4,549.8Q344.6,549.1 343.9,542.9Z" fill="#78b9fa"/>
</g>
<g clip-path="url(#t15)" shape-rendering="crispEdges">
<rect x="346" y="479" width="110" height="85" fill="#ff6000"/>
<path d="M343.2,476.2L373.5,476.2L373.5,536.8L343.2,536.8Z" fill="#ffa000"/>
<path d="M343.2,531.2L362.5,531.2L362.5,567.0L343.2,567.0Z" fill="#ffa000"/>
<path d="M363.9,478.3L361.1,476.2L375.6,476.2L390.0,476.2L391.4,480.4Q392.8,484.5 392.1,488.6Q391.4,492.8 392.8,495.5Q394.1,498.2 394.8,502.4Q395.5,506.5 394.8,510.6Q394.1,514.8 392.8,518.9Q391.4,523.0 390.0,527.1Q388.6,531.2 387.9,532.6Q387.2,534.0 377.6,534.0Q368.0,534.0 363.9,532.6Q359.8,531.2 357.0,528.5Q354.2,525.8 354.2,522.3Q354.2,518.9 356.3,516.1Q358.4,513.4 358.4,509.9Q358.4,506.5 359.1,503.1Q359.8,499.6 364.6,498.2Q369.4,496.9 371.4,494.1Q373.5,491.4 373.5,487.9Q373.5,484.5 370.1,482.4Q366.6,480.4 363.9,478.3Z" fill="#ffa000"/>
<path d="M370.1,498.9Q369.4,496.9 372.8,496.5Q376.2,496.2 379.7,497.2Q383.1,498.2 385.2,500.3Q387.2,502.4 390.0,504.4Q392.8,506.5 393.4,509.9Q394.1,513.4 392.8,516.1Q391.4,518.9 389.3,519.6Q387.2,520.2 385.2,522.3Q383.1,524.4 380.4,525.1Q377.6,525.8 375.6,525.1Q373.5,524.4 371.4,525.8Q369.4,527.1 368.0,526.4Q366.6,525.8 367.3,523.7Q368.0,521.6 370.8,520.2Q373.5,518.9 374.2,516.8Q374.9,514.8 374.2,512.7Q373.5,510.6 372.8,507.9Q372.1,505.1 371.4,503.1Q370.8,501.0 370.1,498.9Z" fill="#ffc03c"/>
<path d="M356.2,523.5Q355.4,521.6 357.6,519.4Q359.8,517.2 363.2,517.6Q366.6,517.9 367.4,519.8Q368.3,521.6 365.4,523.1Q362.5,524.6 359.8,525.0Q357.0,525.3 356.2,523.5Z" fill="#ffc03c"/>
<path d="M358.4,485.2Q359.8,483.1 361.8,481.8Q363.9,480.4 367.3,481.1Q370.8,481.8 372.1,483.8Q373.5,485.9 372.8,488.6Q372.1,491.4 370.8,494.1Q369.4,496.9 366.6,497.6Q363.9,498.2 361.8,500.3Q359.8,502.4 358.4,501.0Q357.0,499.6 356.3,496.9Q355.6,494.1 356.3,490.7Q357.0,487.2 358.4,485.2Z" fill="#ffe878"/>
<path d="M360.1,490.5Q359.8,487.9 361.8,487.5Q363.9,487.0 364.4,489.5Q364.8,492.1 362.6,492.5Q360.4,493.0 360.1,490.5Z" fill="#fffaaa"/>
<path d="M360.3,510.1Q359.5,507.9 361.0,506.0Q362.5,504.2 365.2,504.2Q368.0,504.2 370.9,506.7Q373.8,509.2 374.5,511.3Q375.1,513.4 372.9,515.6Q370.8,517.8 368.7,516.4Q366.6,515.0 363.9,513.6Q361.1,512.3 360.3,510.1Z" fill="#ff6000"/>
<path d="M360.6,509.5Q359.9,507.9 361.5,506.4Q363.2,504.9 365.0,506.0Q366.9,507.2 366.2,509.0Q365.5,510.9 363.5,511.0Q361.4,511.2 360.6,509.5Z" fill="#ff3200"/>
<path d="M376.9,489.0Q376.7,487.0 379.2,486.6Q381.8,486.3 381.9,488.5Q382.0,490.7 379.6,490.9Q377.2,491.1 376.9,489.0Z" fill="#ff6000"/>
<path d="M441.6,481.1L440.9,476.2L450.5,476.2L460.1,476.2L460.1,507.9L460.1,539.5L456.7,538.8Q453.2,538.1 449.1,538.8Q445.0,539.5 440.9,540.2Q436.8,540.9 432.6,540.5Q428.5,540.2 424.4,539.8Q420.2,539.5 416.8,538.8Q413.4,538.1 412.0,536.1Q410.6,534.0 413.4,533.3Q416.1,532.6 418.2,531.2Q420.2,529.9 421.6,527.8Q423.0,525.8 425.1,523.7Q427.1,521.6 429.2,519.6Q431.2,517.5 433.3,514.8Q435.4,512.0 437.4,509.2Q439.5,506.5 440.9,503.1Q442.2,499.6 441.6,496.2Q440.9,492.8 441.6,489.3Q442.2,485.9 441.6,481.1Z" fill="#ffa000"/>
<path d="M447.4,516.8Q447.8,513.4 449.1,509.9Q450.5,506.5 452.6,503.1Q454.6,499.6 457.4,498.2L460.1,496.9L460.1,515.4L460.1,534.0L457.4,534.0Q454.6,534.0 451.9,529.9Q449.1,525.8 448.1,523.0Q447.1,520.2 447.4,516.8Z" fill="#ffc03c"/>
<path d="M444.5,489.4Q444.0,486.6 447.3,486.1Q450.5,485.6 451.0,487.8Q451.5,490.0 448.2,491.2Q445.0,492.3 444.5,489.4Z" fill="#ff6000"/>
<path d="M428.0,488.1Q426.9,485.9 428.4,483.7Q429.9,481.5 432.6,480.8Q435.4,480.1 436.5,482.3Q437.7,484.5 435.9,487.0Q434.0,489.6 431.6,489.9Q429.2,490.3 428.0,488.1Z" fill="#ffa000"/>
<path d="M400.0,479.7L399.6,476.2L403.1,476.2L406.5,476.2L406.4,479.6Q406.2,482.9 403.3,483.0Q400.3,483.1 400.0,479.7Z" fill="#ffa000"/>
<path d="M421.8,499.3Q421.8,496.9 423.4,496.1Q425.1,495.2 425.7,498.1Q426.3,501.0 425.0,502.9Q423.7,504.7 422.7,503.2Q421.8,501.7 421.8,499.3Z" fill="#ffa000"/>
<path d="M396.9,505.1Q396.2,502.4 397.9,499.6Q399.6,496.9 403.1,495.8Q406.5,494.8 409.2,495.2Q412.0,495.5 413.4,492.8Q414.8,490.0 416.1,492.8Q417.5,495.5 417.2,499.6Q416.8,503.8 415.1,506.5Q413.4,509.2 410.6,511.3Q407.9,513.4 404.4,512.7Q401.0,512.0 399.3,509.9Q397.6,507.9 396.9,505.1Z" fill="#ff3200"/>
<path d="M406.0,501.6Q405.5,500.3 407.4,499.1Q409.2,498.0 410.8,498.8Q412.3,499.6 411.1,501.1Q409.9,502.6 408.2,502.8Q406.5,502.9 406.0,501.6Z" fill="#e11400"/>
<path d="M396.1,513.6Q395.9,512.0 397.4,510.8Q398.9,509.7 400.4,510.8Q402.0,512.0 400.4,514.2Q398.9,516.4 397.6,515.8Q396.3,515.3 396.1,513.6Z" fill="#e11400"/>
<path d="M413.6,486.4Q413.1,485.2 415.3,483.7Q417.5,482.2 420.0,481.0Q422.6,479.8 422.2,481.5Q421.9,483.1 419.7,485.0Q417.5,486.8 415.8,487.2Q414.1,487.5 413.6,486.4Z" fill="#ff3200"/>
<path d="M409.5,522.1Q408.3,520.9 410.1,519.1Q412.0,517.2 414.2,517.1Q416.4,517.0 415.7,518.9Q415.0,520.9 412.8,522.1Q410.6,523.3 409.5,522.1Z" fill="#ff3200"/>
<path d="M399.5,530.0Q398.0,528.5 400.2,526.6Q402.4,524.8 404.9,524.4Q407.5,524.1 406.4,526.3Q405.4,528.5 403.2,530.0Q401.0,531.5 399.5,530.0Z" fill="#ff3200"/>
<path d="M387.9,531.2Q387.7,528.5 390.1,528.0Q392.5,527.5 392.8,530.6Q393.0,533.7 390.6,533.9Q388.2,534.0 387.9,531.2Z" fill="#ff3200"/>
<path d="M350.8,537.4Q350.1,534.0 359.1,534.0Q368.0,534.0 370.8,535.4Q373.5,536.8 376.2,540.2Q379.0,543.6 379.7,547.1Q380.4,550.5 377.6,551.2Q374.9,551.9 373.5,553.9Q372.1,556.0 370.8,558.8Q369.4,561.5 365.2,562.2Q361.1,562.9 359.8,559.4Q358.4,556.0 356.3,551.9Q354.2,547.8 352.9,544.3Q351.5,540.9 350.8,537.4Z" fill="#ffa000"/>
<path d="M372.1,540.9Q370.8,536.8 374.2,535.7Q377.6,534.7 381.1,535.7Q384.5,536.8 385.2,540.2Q385.9,543.6 383.8,547.1Q381.8,550.5 379.0,550.8Q376.2,551.2 374.9,548.1Q373.5,545.0 372.1,540.9Z" fill="#ffa000"/>
<path d="M351.2,537.4Q350.1,534.0 352.2,533.7Q354.2,533.3 354.9,536.4Q355.6,539.5 357.0,542.2Q358.4,545.0 359.4,548.4Q360.4,551.9 361.8,555.3Q363.2,558.8 362.8,560.8Q362.5,562.9 361.1,560.1Q359.8,557.4 357.7,552.6Q355.6,547.8 353.9,544.3Q352.2,540.9 351.2,537.4Z" fill="#ffc03c"/>
<path d="M351.5,537.4Q350.8,534.0 352.2,533.9Q353.6,533.7 354.0,536.6Q354.5,539.5 355.4,542.7Q356.3,546.0 357.7,548.9Q359.1,551.9 360.2,554.6Q361.4,557.4 361.1,558.8Q360.9,560.1 359.3,556.7Q357.7,553.2 356.0,549.8Q354.2,546.4 353.2,543.6Q352.2,540.9 351.5,537.4Z" fill="#ffe878"/>
<path d="M386.2,541.6Q385.9,538.1 387.9,536.8Q390.0,535.4 394.1,535.4Q398.2,535.4 400.3,538.1Q402.4,540.9 402.7,544.3Q403.1,547.8 401.3,549.1Q399.6,550.5 396.9,551.2Q394.1,551.9 392.8,553.9Q391.4,556.0 389.3,554.6Q387.2,553.2 386.9,549.1Q386.6,545.0 386.2,541.6Z" fill="#ff3200"/>
<path d="M372.1,562.2Q372.1,557.4 374.9,555.7Q377.6,553.9 381.1,555.0Q384.5,556.0 387.9,556.3Q391.4,556.7 394.8,556.3Q398.2,556.0 400.0,557.4Q401.7,558.8 401.3,562.9L401.0,567.0L386.6,567.0L372.1,567.0L372.1,562.2Z" fill="#ff3200"/>
<path d="M356.3,536.1Q355.6,534.0 357.7,533.3Q359.8,532.6 361.1,534.7Q362.5,536.8 364.6,538.1Q366.6,539.5 368.7,541.6Q370.8,543.6 371.1,547.1Q371.4,550.5 369.7,551.9Q368.0,553.2 365.9,552.6Q363.9,551.9 362.2,549.1Q360.4,546.4 360.8,544.3Q361.1,542.2 359.1,540.2Q357.0,538.1 356.3,536.1Z" fill="#ff3200"/>
<path d="M374.7,558.8Q373.9,557.4 376.1,556.2Q378.3,555.0 380.2,556.2Q382.0,557.4 380.9,558.9Q379.7,560.4 377.6,560.3Q375.6,560.1 374.7,558.8Z" fill="#e11400"/>
<path d="M362.6,548.6Q361.9,547.1 363.6,545.2Q365.2,543.4 367.8,544.2Q370.3,545.0 370.7,547.1Q371.0,549.1 368.8,550.3Q366.6,551.5 364.9,550.8Q363.2,550.1 362.6,548.6Z" fill="#e11400"/>
<path d="M425.1,545.0Q424.4,542.2 429.2,542.6Q434.0,542.9 434.0,555.0L434.0,567.0L429.9,567.0L425.8,567.0L426.4,561.5Q427.1,556.0 426.4,551.9Q425.8,547.8 425.1,545.0Z" fill="#ffa000"/>
<path d="M434.0,555.3Q434.0,543.6 447.1,541.6L460.1,539.5L460.1,553.2L460.1,567.0L447.1,567.0L434.0,567.0L434.0,555.3Z" fill="#ffc03c"/>
<path d="M435.4,562.9Q435.4,558.8 437.4,556.7Q439.5,554.6 443.6,554.3Q447.8,553.9 451.9,555.0Q456.0,556.0 458.1,557.4L460.1,558.8L460.1,562.9L460.1,567.0L447.8,567.0L435.4,567.0L435.4,562.9Z" fill="#ffe878"/>
<path d="M343.2,484.5L343.2,476.2L352.2,476.2L361.1,476.2L359.8,479.7Q358.4,483.1 356.3,485.2Q354.2,487.2 353.2,490.0Q352.2,492.8 347.7,492.8L343.2,492.8L343.2,484.5Z" fill="#78f573"/>
<path d="M343.2,500.3L343.2,492.8L347.7,492.8Q352.2,492.8 351.5,496.9Q350.8,501.0 350.1,504.4Q349.4,507.9 346.3,507.9L343.2,507.9L343.2,500.3Z" fill="#b4faaa"/>
<path d="M343.2,520.6L343.2,507.9L346.3,507.9Q349.4,507.9 348.8,512.0Q348.1,516.1 347.9,520.2Q347.6,524.4 347.5,528.8Q347.4,533.3 345.3,533.3L343.2,533.3L343.2,520.6Z" fill="#e1ffff"/>
<path d="M354.4,523.0Q354.5,520.2 356.4,519.2Q358.4,518.2 359.8,519.2Q361.1,520.2 360.4,523.0Q359.8,525.8 358.7,528.5Q357.7,531.2 356.3,531.6Q354.9,531.9 354.6,528.8Q354.2,525.8 354.4,523.0Z" fill="#ffe878"/>
<path d="M353.2,490.0Q354.2,487.2 356.3,485.2Q358.4,483.1 359.1,484.5Q359.8,485.9 358.0,489.3Q356.3,492.8 356.0,496.9Q355.6,501.0 357.0,503.8Q358.4,506.5 358.7,509.9Q359.1,513.4 357.3,516.1Q355.6,518.9 355.3,521.6Q354.9,524.4 356.0,526.4Q357.0,528.5 354.2,530.2Q351.5,531.9 349.4,531.9Q347.4,531.9 347.7,526.1Q348.1,520.2 348.8,515.4Q349.4,510.6 350.1,505.8Q350.8,501.0 351.5,496.9Q352.2,492.8 353.2,490.0Z" fill="#37d23c"/>
<path d="M343.2,549.1L343.2,531.2L344.6,531.9Q346.0,532.6 345.9,534.7L345.7,536.8L346.2,538.8Q346.7,540.9 347.5,543.4Q348.3,546.0 349.9,548.9Q351.5,551.9 352.9,554.6Q354.2,557.4 355.6,559.4Q357.0,561.5 357.7,564.2L358.4,567.0L350.8,567.0L343.2,567.0L343.2,549.1Z" fill="#96d2fa"/>
<path d="M345.9,534.7Q346.0,532.6 348.4,532.3Q350.8,531.9 351.2,534.3Q351.5,536.8 351.6,538.8Q351.8,540.9 352.3,543.4Q352.9,546.0 354.2,548.9Q355.6,551.9 357.0,554.6Q358.4,557.4 359.8,559.9Q361.1,562.5 361.5,564.7L361.8,567.0L360.1,567.0L358.4,567.0L357.7,564.2Q357.0,561.5 355.6,559.4Q354.2,557.4 352.9,554.6Q351.5,551.9 349.9,548.9Q348.3,546.0 347.5,543.4Q346.7,540.9 346.2,538.8L345.7,536.8L345.9,534.7Z" fill="#37d23c"/>
</g>
<g clip-path="url(#t25)" shape-rendering="crispEdges">
<rect x="456" y="479" width="110" height="85" fill="#fffaaa"/>
<path d="M468.4,476.2L483.5,476.2L494.5,476.2L505.5,476.2L504.8,480.4Q504.1,484.5 502.8,487.2Q501.4,490.0 497.9,491.4Q494.5,492.8 491.8,493.4Q489.0,494.1 488.3,496.9Q487.6,499.6 483.5,500.3Q479.4,501.0 478.0,502.4Q476.6,503.8 478.0,506.5Q479.4,509.2 478.0,512.7Q476.6,516.1 480.8,517.5Q484.9,518.9 485.6,521.6Q486.2,524.4 484.9,527.8Q483.5,531.2 482.8,533.3Q482.1,535.4 478.0,536.1Q473.9,536.8 473.2,538.8Q472.5,540.9 471.1,542.9Q469.8,545.0 467.0,546.4Q464.2,547.8 462.2,550.5Q460.1,553.2 456.7,554.6L453.2,556.0L453.2,516.1L453.2,476.2L468.4,476.2Z" fill="#ffe878"/>
<path d="M453.2,514.8L453.2,476.2L469.1,476.2L484.9,476.2L483.5,480.4Q482.1,484.5 480.8,487.2Q479.4,490.0 476.6,491.4Q473.9,492.8 471.1,493.4Q468.4,494.1 467.0,495.5Q465.6,496.9 465.3,501.7Q464.9,506.5 465.3,513.4Q465.6,520.2 466.7,525.8Q467.7,531.2 466.0,534.7Q464.2,538.1 462.2,539.5Q460.1,540.9 460.8,543.6Q461.5,546.4 460.1,549.1Q458.8,551.9 456.0,552.6L453.2,553.2L453.2,514.8Z" fill="#ffc03c"/>
<path d="M453.2,513.4L453.2,476.2L462.2,476.2L471.1,476.2L469.8,480.4Q468.4,484.5 467.0,487.9Q465.6,491.4 464.6,495.5Q463.6,499.6 463.9,503.1Q464.2,506.5 463.9,510.6Q463.6,514.8 464.2,518.9Q464.9,523.0 465.6,527.1Q466.3,531.2 464.9,533.3Q463.6,535.4 461.2,536.1Q458.8,536.8 459.4,540.2Q460.1,543.6 458.8,546.4Q457.4,549.1 455.3,549.8L453.2,550.5L453.2,513.4Z" fill="#ffa000"/>
<path d="M510.7,476.2L504.1,476.2L505.5,479.7Q506.9,483.1 508.9,485.2Q511.0,487.2 513.8,488.3Q516.5,489.3 516.8,482.8L517.2,476.2L510.7,476.2Z" fill="#ffe878"/>
<path d="M539.7,488.9Q539.6,487.5 541.8,487.2Q544.0,487.0 544.1,488.5Q544.3,490.0 542.1,490.1Q539.9,490.3 539.7,488.9Z" fill="#ffe878"/>
<path d="M506.2,505.6Q504.1,505.1 506.2,503.8Q508.2,502.4 511.0,501.7Q513.8,501.0 515.1,498.2Q516.5,495.5 517.9,492.8Q519.2,490.0 522.0,487.9Q524.8,485.9 526.8,485.1Q528.9,484.2 528.7,485.9Q528.5,487.5 525.9,489.2Q523.4,491.0 521.7,493.2Q519.9,495.5 518.9,498.2Q517.9,501.0 515.8,502.9Q513.8,504.7 511.0,505.4Q508.2,506.1 506.2,505.6Z" fill="#37d23c"/>
<path d="M502.8,514.4Q502.1,512.7 504.5,511.7Q506.9,510.6 510.3,509.2Q513.8,507.9 517.2,507.2Q520.6,506.5 524.1,505.1Q527.5,503.8 529.6,501.7Q531.6,499.6 534.4,497.6Q537.1,495.5 540.6,494.8Q544.0,494.1 545.4,495.5Q546.8,496.9 549.5,498.2Q552.2,499.6 555.0,501.0Q557.8,502.4 560.8,503.1Q563.9,503.8 567.0,505.1L570.1,506.5L570.1,536.8L570.1,567.0L556.4,567.0L542.6,567.0L543.3,561.5Q544.0,556.0 544.3,550.5Q544.7,545.0 544.3,540.9Q544.0,536.8 541.2,535.4Q538.5,534.0 535.8,533.7Q533.0,533.3 530.2,532.3Q527.5,531.2 526.1,528.5Q524.8,525.8 523.4,527.8Q522.0,529.9 519.9,530.9Q517.9,531.9 516.5,530.9Q515.1,529.9 514.4,527.8Q513.8,525.8 511.7,525.1Q509.6,524.4 508.9,522.3Q508.2,520.2 506.2,518.9Q504.1,517.5 502.1,518.9Q500.0,520.2 500.0,519.6Q500.0,518.9 501.7,517.5Q503.4,516.1 502.8,514.4Z" fill="#37d23c"/>
<path d="M480.1,558.8Q483.5,556.0 486.2,553.2Q489.0,550.5 493.1,548.4Q497.2,546.4 500.7,545.7Q504.1,545.0 507.6,544.0Q511.0,542.9 513.1,544.7Q515.1,546.4 517.2,547.1Q519.2,547.8 523.4,546.4Q527.5,545.0 531.6,543.6Q535.8,542.2 539.9,541.6Q544.0,540.9 544.7,544.3Q545.4,547.8 545.4,557.4L545.4,567.0L508.9,567.0L472.5,567.0L474.6,564.2Q476.6,561.5 480.1,558.8Z" fill="#37d23c"/>
<path d="M526.1,520.6Q523.4,518.9 526.1,519.2Q528.9,519.6 532.3,520.9Q535.8,522.3 538.8,524.0Q541.9,525.8 543.3,528.2Q544.7,530.6 543.3,529.9Q541.9,529.2 538.8,527.1Q535.8,525.1 532.3,523.7Q528.9,522.3 526.1,520.6Z" fill="#fffaaa"/>
<path d="M557.8,567.0L545.4,567.0L546.1,561.5Q546.8,556.0 547.4,550.5Q548.1,545.0 549.5,540.2Q550.9,535.4 552.9,534.0Q555.0,532.6 557.1,534.7Q559.1,536.8 561.5,535.4Q563.9,534.0 567.0,534.0L570.1,534.0L570.1,550.5L570.1,567.0L557.8,567.0Z" fill="#78f573"/>
<path d="M516.5,567.0L489.0,567.0L491.1,562.2Q493.1,557.4 495.2,556.2Q497.2,555.0 498.6,556.9Q500.0,558.8 502.8,560.1Q505.5,561.5 508.2,560.8Q511.0,560.1 515.1,558.8Q519.2,557.4 523.4,555.5Q527.5,553.7 531.6,553.5Q535.8,553.2 539.2,554.6Q542.6,556.0 543.3,559.2Q544.0,562.5 544.0,564.7L544.0,567.0L516.5,567.0Z" fill="#78f573"/>
<path d="M537.3,510.1Q535.5,508.6 537.3,507.1Q539.2,505.5 540.7,506.4Q542.2,507.2 540.7,509.4Q539.2,511.6 537.3,510.1Z" fill="#78f573"/>
<path d="M551.4,513.2Q550.6,511.3 552.5,510.5Q554.3,509.7 556.2,511.5Q558.0,513.4 557.2,514.9Q556.4,516.4 554.3,515.7Q552.2,515.0 551.4,513.2Z" fill="#78f573"/>
<path d="M558.0,524.2Q557.5,522.3 560.0,521.8Q562.6,521.4 563.0,523.4Q563.5,525.5 561.0,525.8Q558.4,526.0 558.0,524.2Z" fill="#78f573"/>
<path d="M555.0,492.5Q554.7,489.3 556.1,489.0Q557.5,488.6 557.8,492.1Q558.0,495.5 556.6,495.6Q555.3,495.8 555.0,492.5Z" fill="#37d23c"/>
<path d="M549.5,555.8Q549.2,553.9 551.3,553.5Q553.4,553.0 553.6,555.0Q553.9,557.1 551.8,557.4Q549.8,557.6 549.5,555.8Z" fill="#b4faaa"/>
</g>
<g shape-rendering="crispEdges">
<path d="M331.6,152.9Q330.2,149.5 331.6,145.4Q333.0,141.2 334.4,137.1Q335.8,133.0 337.8,130.9Q339.9,128.9 343.3,127.8Q346.8,126.8 350.9,126.5Q355.0,126.1 359.1,126.8Q363.2,127.5 365.3,128.9Q367.4,130.2 367.4,150.9Q367.4,171.5 363.9,172.2Q360.5,172.9 357.8,172.2Q355.0,171.5 353.6,168.8Q352.2,166.0 350.9,163.9Q349.5,161.9 346.8,161.2Q344.0,160.5 341.2,159.8Q338.5,159.1 335.8,157.8Q333.0,156.4 331.6,152.9Z" fill="#ff3200"/>
<path d="M346.1,138.5Q344.0,137.1 346.1,134.4Q348.1,131.6 351.6,130.6Q355.0,129.6 358.4,130.6Q361.9,131.6 362.9,134.4Q363.9,137.1 361.5,137.8Q359.1,138.5 356.4,137.1Q353.6,135.8 350.9,137.8Q348.1,139.9 346.1,138.5Z" fill="#e11400"/>
<path d="M356.7,159.8Q356.4,155.0 357.8,151.6Q359.1,148.1 361.9,147.1Q364.6,146.1 366.0,146.4Q367.4,146.8 367.4,157.8Q367.4,168.8 363.9,169.4Q360.5,170.1 358.8,167.4Q357.1,164.6 356.7,159.8Z" fill="#e11400"/>
<path d="M341.2,154.9Q341.0,152.9 342.5,152.5Q344.0,152.0 344.3,154.2Q344.7,156.4 343.1,156.7Q341.5,156.9 341.2,154.9Z" fill="#e11400"/>
<path d="M277.3,124.1Q276.6,120.6 279.4,121.3Q282.1,122.0 285.9,130.2Q289.7,138.5 289.0,139.9Q288.3,141.2 285.9,139.2Q283.5,137.1 280.8,132.3Q278.0,127.5 277.3,124.1Z" fill="#e11400"/>
<path d="M288.7,123.9Q288.7,122.0 292.3,122.2Q295.9,122.4 296.7,124.6Q297.5,126.8 294.6,127.3Q291.8,127.8 290.2,126.7Q288.7,125.7 288.7,123.9Z" fill="#e11400"/>
<path d="M310.8,130.7Q310.3,128.2 312.4,127.7Q314.4,127.2 314.9,130.0Q315.4,132.7 313.3,133.0Q311.3,133.3 310.8,130.7Z" fill="#e11400"/>
<path d="M290.4,137.6Q290.1,134.4 292.3,133.2Q294.5,132.0 296.7,133.9Q298.9,135.8 298.9,138.5Q298.9,141.2 296.7,142.4Q294.5,143.6 292.6,142.2Q290.8,140.8 290.4,137.6Z" fill="#ff6000"/>
<path d="M293.1,137.9Q293.1,136.0 294.6,135.4Q296.1,134.8 297.0,137.0Q297.8,139.2 296.5,140.7Q295.2,142.2 294.2,141.0Q293.1,139.9 293.1,137.9Z" fill="#ffa000"/>
<path d="M341.1,169.6Q340.3,167.4 342.8,165.2Q345.4,163.0 347.6,164.5Q349.8,166.0 348.3,168.5Q346.8,171.1 344.3,171.4Q341.9,171.8 341.1,169.6Z" fill="#ffa000"/>
<path d="M326.1,120.6Q324.8,117.9 326.8,118.6Q328.9,119.2 330.6,122.0Q332.3,124.8 331.3,126.1Q330.2,127.5 328.9,125.4Q327.5,123.4 326.1,120.6Z" fill="#ffc03c"/>
</g>
<g shape-rendering="crispEdges">
<path d="M332.2,61.6Q332.2,58.1 335.0,57.1Q337.8,56.1 342.6,55.9Q347.4,55.6 353.6,55.6Q359.8,55.6 360.1,59.0Q360.4,62.2 358.7,66.0Q357.0,69.8 352.9,70.5Q348.8,71.2 348.8,83.2Q348.8,95.2 346.0,94.6Q343.2,93.9 339.8,93.2Q336.4,92.5 334.3,93.9Q332.2,95.2 331.2,93.2Q330.2,91.1 330.5,88.4Q330.9,85.6 328.1,87.0Q325.4,88.4 324.0,84.9Q322.6,81.5 320.6,78.8Q318.5,76.0 320.6,75.3Q322.6,74.6 325.4,76.0Q328.1,77.4 329.5,74.6Q330.9,71.9 331.6,68.4Q332.2,65.0 332.2,61.6Z" fill="#ffc03c"/>
<path d="M337.1,57.7Q336.4,55.6 341.2,55.6Q346.0,55.6 345.7,57.6Q345.3,59.5 341.5,59.6Q337.8,59.8 337.1,57.7Z" fill="#ffe878"/>
<path d="M337.3,63.5Q337.1,60.9 338.4,60.5Q339.8,60.2 340.0,62.9Q340.2,65.7 338.9,65.9Q337.5,66.1 337.3,63.5Z" fill="#ffa000"/>
<path d="M347.7,115.2Q347.4,109.0 349.4,108.9Q351.5,108.7 351.8,114.4Q352.2,120.0 350.1,120.7Q348.1,121.4 347.7,115.2Z" fill="#ffc03c"/>
<path d="M316.0,68.2Q315.8,67.1 317.1,66.7Q318.5,66.4 318.7,67.8Q318.9,69.1 317.5,69.3Q316.2,69.4 316.0,68.2Z" fill="#ffc03c"/>
<path d="M319.5,62.4Q319.2,60.9 321.2,61.2Q323.3,61.6 324.0,62.9Q324.7,64.3 322.3,64.1Q319.9,63.9 319.5,62.4Z" fill="#ff6000"/>
</g>
<g shape-rendering="crispEdges">
<path d="M381.1,481.0Q380.4,478.2 383.8,476.9Q387.2,475.5 390.0,476.9Q392.8,478.2 393.1,481.0Q393.4,483.8 390.3,484.4Q387.2,485.1 384.5,484.4Q381.8,483.8 381.1,481.0Z" fill="#ffa000"/>
<path d="M392.8,484.4Q392.8,479.6 394.1,475.5Q395.5,471.4 396.5,467.2Q397.6,463.1 399.3,465.9Q401.0,468.6 402.4,471.4Q403.8,474.1 405.8,475.5Q407.9,476.9 410.6,477.6Q413.4,478.2 414.8,475.5Q416.1,472.8 417.5,467.9Q418.9,463.1 420.2,460.7Q421.6,458.3 423.7,460.4Q425.8,462.4 426.4,466.9Q427.1,471.4 427.8,474.8Q428.5,478.2 431.2,478.2Q434.0,478.2 437.4,478.9Q440.9,479.6 441.6,481.0Q442.2,482.4 442.2,487.2Q442.2,492.0 435.4,492.0Q428.5,492.0 414.8,492.0Q401.0,492.0 396.9,490.6Q392.8,489.2 392.8,484.4Z" fill="#ff6000"/>
<path d="M401.2,480.4Q400.0,478.2 401.9,476.2Q403.8,474.1 405.6,476.2Q407.5,478.2 407.0,480.8Q406.5,483.3 404.4,483.0Q402.4,482.6 401.2,480.4Z" fill="#ffa000"/>
<path d="M429.5,487.2Q428.5,483.8 430.6,482.4Q432.6,481.0 434.7,482.7Q436.8,484.4 436.1,487.2Q435.4,489.9 433.0,490.3Q430.6,490.6 429.5,487.2Z" fill="#ffa000"/>
<path d="M358.4,484.4Q359.8,479.6 364.6,478.9Q369.4,478.2 373.5,479.6Q377.6,481.0 379.0,483.8Q380.4,486.5 378.3,489.2Q376.2,492.0 373.5,493.4Q370.8,494.8 370.1,496.8Q369.4,498.9 365.9,500.2Q362.5,501.6 360.4,499.6Q358.4,497.5 357.7,493.4Q357.0,489.2 358.4,484.4Z" fill="#ffc03c"/>
<path d="M357.3,489.2Q357.0,485.1 359.1,483.8Q361.1,482.4 364.6,482.4Q368.0,482.4 370.1,484.4Q372.1,486.5 371.8,489.2Q371.4,492.0 369.0,494.1Q366.6,496.1 363.9,496.8Q361.1,497.5 359.4,495.4Q357.7,493.4 357.3,489.2Z" fill="#ffe878"/>
<path d="M360.6,490.1Q360.2,487.9 362.0,487.4Q363.9,486.9 364.4,489.1Q364.8,491.3 363.0,491.8Q361.1,492.3 360.6,490.1Z" fill="#fffaaa"/>
<path d="M377.3,489.2Q376.9,487.2 379.0,486.8Q381.1,486.5 381.4,488.6Q381.8,490.6 379.7,491.0Q377.6,491.3 377.3,489.2Z" fill="#ff6000"/>
<path d="M413.7,485.8Q413.4,484.4 415.4,482.7Q417.5,481.0 419.9,480.3Q422.3,479.6 422.0,481.3Q421.6,483.1 419.6,484.8Q417.5,486.5 415.8,486.8Q414.1,487.2 413.7,485.8Z" fill="#ff3200"/>
</g>
<g shape-rendering="crispEdges">
<path d="M439.9,154.8Q439.2,147.2 444.4,147.0Q449.6,146.8 449.9,154.2Q450.2,161.6 445.4,162.0Q440.6,162.3 439.9,154.8Z" fill="#ff6000"/>
<path d="M451.9,153.4Q451.9,147.2 454.4,147.2Q456.9,147.2 456.9,153.4Q456.9,159.6 454.4,159.6Q451.9,159.6 451.9,153.4Z" fill="#ff6000"/>
<path d="M435.3,157.6Q434.9,152.0 436.4,147.2Q437.9,142.4 440.6,140.9Q443.4,139.3 445.6,141.6Q447.8,143.8 448.8,147.9Q449.8,152.0 448.7,154.2Q447.5,156.4 445.4,152.8Q443.4,149.2 442.0,149.9Q440.6,150.6 439.9,154.8Q439.2,158.9 437.5,161.1Q435.8,163.3 435.3,157.6Z" fill="#ff3200"/>
<path d="M462.1,139.4Q461.9,136.2 468.5,135.5Q475.0,134.8 474.7,137.8Q474.3,140.7 470.5,142.4Q466.8,144.0 464.6,143.3Q462.4,142.7 462.1,139.4Z" fill="#ffa000"/>
<path d="M448.4,160.7Q448.2,158.2 450.2,157.8Q452.3,157.5 452.7,160.1Q453.0,162.7 450.8,163.0Q448.6,163.3 448.4,160.7Z" fill="#ffc03c"/>
<path d="M514.2,125.2Q514.9,117.6 516.9,112.8Q519.0,108.0 521.1,107.3Q523.1,106.6 523.8,110.8Q524.5,114.9 523.8,119.7Q523.1,124.5 521.1,127.2Q519.0,130.0 516.2,131.4Q513.5,132.8 514.2,125.2Z" fill="#ff3200"/>
</g>
<g shape-rendering="crispEdges">
<path d="M332.2,222.6Q332.2,217.8 334.3,215.1Q336.4,212.5 339.8,210.9Q343.2,209.2 346.7,210.4Q350.1,211.6 351.8,214.7Q353.6,217.8 356.3,219.8Q359.1,221.9 359.4,224.3Q359.8,226.7 352.9,227.0Q346.0,227.4 339.1,227.4Q332.2,227.4 332.2,222.6Z" fill="#ffc03c"/>
<path d="M342.0,241.8Q341.9,239.8 343.9,239.1Q346.0,238.4 347.0,240.4Q348.1,242.5 346.7,243.9Q345.3,245.2 343.7,244.6Q342.1,243.9 342.0,241.8Z" fill="#ffe878"/>
<path d="M337.1,192.7Q336.4,190.2 341.2,189.6Q346.0,188.9 348.1,190.6Q350.1,192.3 348.1,194.7Q346.0,197.1 342.6,198.2Q339.1,199.2 338.4,197.1Q337.8,195.1 337.1,192.7Z" fill="#ffc03c"/>
<path d="M366.4,214.0Q366.4,211.6 368.6,210.5Q370.8,209.5 371.4,212.2Q372.1,215.0 370.8,216.7Q369.4,218.4 367.9,217.4Q366.4,216.4 366.4,214.0Z" fill="#ff6000"/>
<path d="M369.0,199.2Q368.0,197.1 370.1,196.8Q372.1,196.4 372.8,198.5Q373.5,200.6 371.8,200.9Q370.1,201.2 369.0,199.2Z" fill="#ff6000"/>
</g>
<g shape-rendering="crispEdges">
<path d="M344.6,413.9Q345.3,407.0 348.4,407.0Q351.5,407.0 352.5,413.9Q353.6,420.8 352.5,424.5Q351.5,428.3 348.1,428.8Q344.6,429.3 344.3,425.0Q343.9,420.8 344.6,413.9Z" fill="#fffaaa"/>
<path d="M352.5,406.2Q352.2,407.0 353.9,412.5Q355.6,418.0 357.0,422.1Q358.4,426.2 359.8,430.4Q361.1,434.5 361.8,437.2Q362.5,440.0 367.0,440.0Q371.4,440.0 370.8,430.4Q370.1,420.8 368.7,415.9Q367.3,411.1 367.7,408.4Q368.0,405.6 360.4,405.5Q352.9,405.4 352.5,406.2Z" fill="#37d23c"/>
<path d="M349.1,393.9Q348.8,390.5 350.1,388.4Q351.5,386.4 353.6,387.4Q355.6,388.4 354.6,390.8Q353.6,393.2 353.2,396.0Q352.9,398.8 352.2,401.5Q351.5,404.2 350.5,400.8Q349.4,397.4 349.1,393.9Z" fill="#37d23c"/>
<path d="M317.1,392.1Q315.8,391.2 317.5,390.7Q319.2,390.2 321.9,391.4Q324.7,392.6 324.3,393.2Q324.0,393.9 321.2,393.5Q318.5,393.0 317.1,392.1Z" fill="#37d23c"/>
</g>
<g shape-rendering="crispEdges">
<path d="M399.5,172.2Q399.0,171.0 401.0,169.0Q403.0,167.0 405.5,165.0Q408.0,163.0 410.5,162.0Q413.0,161.0 415.0,163.0Q417.0,165.0 419.5,164.0Q422.0,163.0 424.0,162.5Q426.0,162.0 428.0,163.5Q430.0,165.0 430.5,167.5Q431.0,170.0 429.5,172.0Q428.0,174.0 427.0,172.5Q426.0,171.0 425.0,169.5Q424.0,168.0 422.0,167.5Q420.0,167.0 418.0,166.5Q416.0,166.0 414.0,166.5Q412.0,167.0 410.0,168.0Q408.0,169.0 406.0,171.0Q404.0,173.0 402.0,173.2Q400.0,173.5 399.5,172.2Z" fill="#ff6000"/>
<path d="M381.0,178.0Q382.0,176.0 386.0,176.5Q390.0,177.0 394.0,177.5Q398.0,178.0 401.0,179.0Q404.0,180.0 407.0,181.0Q410.0,182.0 411.0,184.0Q412.0,186.0 415.0,187.0Q418.0,188.0 420.5,187.5Q423.0,187.0 424.5,185.5Q426.0,184.0 426.5,181.5Q427.0,179.0 428.5,178.0Q430.0,177.0 429.5,180.5Q429.0,184.0 428.0,186.5Q427.0,189.0 424.0,190.5Q421.0,192.0 420.0,194.5Q419.0,197.0 417.0,200.5Q415.0,204.0 412.5,204.5Q410.0,205.0 408.5,203.0Q407.0,201.0 408.5,199.0Q410.0,197.0 411.0,195.0Q412.0,193.0 410.5,191.5Q409.0,190.0 406.0,189.5Q403.0,189.0 400.0,189.5Q397.0,190.0 394.5,191.0Q392.0,192.0 389.5,190.5Q387.0,189.0 384.0,187.5Q381.0,186.0 380.5,183.0Q380.0,180.0 381.0,178.0Z" fill="#ff6000"/>
<path d="M395.8,183.8Q395.5,180.0 397.2,180.0Q399.0,180.0 401.5,181.8Q404.0,183.5 406.2,184.2Q408.5,185.0 406.8,186.0Q405.0,187.0 402.5,187.1Q400.0,187.2 398.0,187.3Q396.0,187.5 395.8,183.8Z" fill="#ff3200"/>
<path d="M388.1,183.5Q388.0,182.2 389.5,182.0Q391.0,181.8 391.2,183.2Q391.5,184.5 389.9,184.7Q388.3,184.8 388.1,183.5Z" fill="#ffa000"/>
<path d="M436.5,174.8Q435.0,173.0 437.5,171.0Q440.0,169.0 442.0,168.5Q444.0,168.0 445.5,169.5Q447.0,171.0 447.0,174.0Q447.0,177.0 445.0,177.5Q443.0,178.0 440.5,177.2Q438.0,176.5 436.5,174.8Z" fill="#ff3200"/>
<path d="M434.2,156.5Q434.0,153.0 436.0,152.0Q438.0,151.0 439.0,152.5Q440.0,154.0 439.5,157.5Q439.0,161.0 437.5,162.5Q436.0,164.0 435.2,162.0Q434.5,160.0 434.2,156.5Z" fill="#ff3200"/>
</g>
<g shape-rendering="crispEdges">
<path d="M468.2,474.5L469.8,469.2L484.0,469.2L484.0,477.5L481.0,485.0L477.2,491.0L472.0,492.5L466.0,494.8L464.5,500.0L464.9,504.5L465.2,516.5L466.0,536.0L445.0,534.5L445.8,522.5L447.2,516.5L453.2,502.2L458.5,492.5L466.0,485.0L467.5,477.5Z" fill="#ffc03c"/>
<path d="M443.5,500.0L453.2,502.2L447.2,516.5L443.5,516.5Z" fill="#ffa000"/>
<path d="M442.8,492.8Q442.8,485.4 446.9,485.6Q451.0,485.9 451.4,486.9Q451.9,488.0 449.6,489.9Q447.2,491.8 446.5,493.6Q445.8,495.5 446.4,497.0Q447.0,498.5 445.6,499.3Q444.2,500.1 443.5,500.1Q442.8,500.1 442.8,492.8Z" fill="#ff6000"/>
<path d="M468.0,477.7Q467.9,476.8 468.8,476.6Q469.8,476.4 469.9,477.3Q470.1,478.2 469.1,478.4Q468.1,478.6 468.0,477.7Z" fill="#ffe878"/>
</g>
<g shape-rendering="crispEdges">
<path d="M430.8,536.9L458.4,533.0L459.4,538.9L432.8,544.1Z" fill="#ffa000"/>
<path d="M433.8,542.0L459.4,537.5L459.9,545.7L433.8,546.7Z" fill="#ffc03c"/>
</g>
<path d="M340.5,380.2L343.2,385.0L346.0,388.9L348.1,393.2L349.9,398.8L350.8,404.2 M346.0,388.9L350.1,389.8L354.2,387.8L357.7,389.8L355.6,393.2L353.6,397.4L352.9,402.9L351.1,404.2 M357.0,389.1L362.5,391.9L365.9,388.4L370.8,386.4L372.1,391.9L373.5,392.6 M350.8,404.5L357.0,404.0L373.5,403.6 M236.0,90.8L241.5,94.6L245.6,98.0L246.3,101.4L250.4,104.2L253.2,106.9L256.6,107.6L260.1,110.4L264.2,111.8L265.6,114.5L265.6,118.6L264.9,120.7L266.2,121.7L275.2,120.0L289.6,116.6L296.5,109.0L304.8,100.8L313.0,94.6L324.0,87.0L335.0,79.4L346.0,71.9 M275.2,120.0L275.2,139.0 M330.9,55.4L332.2,58.1L337.8,59.5L344.6,61.6L346.0,65.0 M346.0,65.0L347.4,70.5L354.2,71.9L362.5,73.9L369.4,80.1L376.9,76.0L386.6,70.5L401.0,78.8L414.8,87.0L428.5,95.2L442.2,103.5L456.0,112.4 M376.9,76.0L378.3,85.6L379.0,93.2L382.4,99.4L383.1,102.8L385.9,106.2L383.8,111.8L382.4,122.8L381.8,139.0 M471.1,54.0L471.1,110.4L461.8,110.4L461.8,139.0 M456.0,112.4L461.8,115.9 M471.1,87.4L550.2,87.4L550.9,89.5L553.6,90.4L556.4,89.5L557.8,86.3L560.5,84.9L563.9,84.5 M236.0,167.2L244.2,164.4L256.6,163.5L268.3,162.1L272.4,156.9L274.5,148.6L275.2,139.0 M236.0,167.2L237.4,174.8L241.5,180.2L244.9,185.8L245.6,189.2L249.8,191.9L255.2,194.0L256.6,198.1L261.4,196.8L265.6,200.9L269.0,203.6 M269.0,203.6L270.4,194.0L273.8,187.1L277.2,182.3L286.9,179.6L293.8,183.0L297.9,187.1L302.0,189.2L308.9,185.8L314.4,188.5L319.9,191.2L326.1,191.9L330.9,187.1L337.8,185.8L346.0,186.0 M269.0,203.6L268.3,207.8L270.4,213.2L269.7,218.8L269.0,224.0 M256.6,198.1L258.0,202.2L253.9,206.4L248.4,207.8L244.2,211.9L242.2,217.4L244.2,221.5L247.0,224.0 M236.0,211.2L244.2,211.9 M236.0,218.8L237.4,224.0 M382.4,139.0L381.8,144.5L376.2,152.8L369.4,162.4L365.2,169.2L362.5,173.4L362.5,178.2 M346.0,186.4L351.5,188.5L355.6,184.4L360.4,182.3L361.1,179.6 M360.4,179.6L365.2,180.2L366.6,184.4L370.1,186.4L375.6,187.8L378.3,189.9L373.5,191.2L371.4,193.3L368.7,194.0L366.6,189.9L363.9,185.8L361.1,183.0L360.4,179.6 M366.6,184.4L368.7,189.2L371.4,189.9L372.8,187.8 M371.4,193.3L373.5,196.8L375.6,200.9L372.1,206.4L368.0,208.4L365.2,213.2L362.5,218.8L360.4,224.0 M373.5,196.8L376.9,200.9L378.3,207.8L378.3,214.6L380.4,220.1L383.1,224.0 M456.0,158.9L452.6,160.3L451.9,164.4L448.4,170.6L447.8,174.8L448.4,178.2L445.0,180.2L444.3,184.4L445.7,187.1L442.2,190.6L443.6,193.3L447.1,195.4L447.8,200.9L450.5,207.8L452.6,211.9L447.8,213.2L442.2,216.0L439.5,220.1L437.4,224.0 M452.6,211.9L456.0,216.0 M461.8,139.0L461.8,158.2L456.0,158.9 M456.0,216.0L456.7,220.1L457.4,224.0 M559.1,203.6L561.2,206.4L561.9,210.5L560.5,213.9L559.1,218.8L559.8,224.0 M236.0,269.4L240.1,270.1L244.2,270.8L246.3,267.3L253.9,265.2L260.8,264.8L269.0,263.9L275.9,264.6L280.0,268.0L284.1,273.5L286.9,280.4L289.6,285.9L292.4,287.9L297.9,287.2L304.8,286.6L313.0,285.2L317.1,284.5L319.9,288.6L322.6,291.4L326.1,292.8L326.8,296.9L328.8,301.0L328.1,309.0 M236.0,224.0L238.1,229.5L238.8,237.8L240.1,243.2L239.4,251.5L241.5,259.8L244.2,266.6L246.3,267.3 M247.0,224.0L249.1,232.2L249.8,244.6L249.8,258.4L251.1,263.9L251.8,265.2 M269.0,224.0L265.6,229.5L264.2,233.6L260.8,235.0L260.8,244.6L260.5,258.4L260.8,264.8 M317.1,284.5L318.5,272.1L322.6,266.6L329.5,258.4L335.0,256.3L338.4,259.8L341.2,263.9L344.6,261.1L346.0,258.4 M315.1,298.9L317.1,294.4L319.2,295.1L317.8,299.6L315.8,300.7L315.1,298.9 M360.4,224.0L359.1,229.5L355.6,235.0L352.2,239.1L350.1,244.6L348.1,251.5L346.0,257.0 M383.1,224.0L370.1,224.0L367.3,225.4L368.7,229.5L372.1,235.0L376.9,239.1L380.4,246.0L382.4,251.5L378.3,258.4L374.9,265.2L371.4,268.7L372.8,272.1L372.8,277.6L374.9,283.1L376.9,288.6L378.3,292.8L383.1,298.2L386.6,303.1L387.2,309.0 M382.4,251.5L387.2,250.1L391.4,248.1L393.4,250.8L398.2,248.1L405.1,246.0L410.6,244.6L414.8,240.5L414.1,236.4L420.2,235.0L427.1,233.6L432.6,228.1L436.8,224.0 M410.6,296.2L411.3,287.9L414.8,281.8L419.6,279.0L423.0,279.7L427.1,283.1L429.9,286.6L436.8,287.9L442.2,289.3L447.1,290.0L449.1,285.9L451.9,282.4L456.0,284.5 M387.2,309.0L390.0,305.1L392.1,296.9L400.3,295.2L406.5,296.6L410.6,296.2L410.6,301.0L408.6,306.5L407.2,309.0 M457.4,224.0L458.8,228.1L458.1,233.6L457.4,237.1L462.2,238.4L463.6,241.9L469.8,244.6L473.9,248.8L473.9,252.2L478.7,256.3L482.8,259.8L484.9,262.5L484.2,265.2L487.6,269.4L492.4,272.8L493.1,278.3 M456.0,284.5L461.5,281.1L466.3,279.0L469.1,281.1L473.9,279.7L475.9,276.2L480.8,277.6L485.6,279.7L489.7,279.0L493.1,278.3 M493.1,278.3L495.9,281.8L498.6,285.2L503.4,287.9L507.6,285.9L511.7,287.2L514.4,284.5L517.9,288.6L521.3,292.8L524.8,295.5L526.8,295.8L530.9,294.8L535.8,294.1L538.5,296.9L541.2,294.8L546.8,293.4L552.2,294.1L555.7,290.0L559.1,285.9L561.9,283.1L563.9,282.4 M526.8,295.8L526.8,301.0L526.1,305.1L526.8,309.0 M557.1,290.0L558.4,294.1L560.5,298.2L562.6,303.8L563.9,306.5 M558.4,224.0L559.1,230.9L558.4,236.4L557.1,241.2L552.2,241.9L548.8,242.6L548.1,245.3L547.4,248.1L550.9,249.4L554.3,251.5L557.1,254.9L560.5,258.4L563.9,261.1 M328.1,309.0L327.4,313.1L326.1,318.6L324.0,322.1L324.0,324.1L327.4,325.5L324.0,329.6L323.3,332.4L325.4,334.4L328.8,335.1L324.0,336.5L321.9,340.6L319.9,344.8L317.8,345.4L319.2,349.6L321.9,353.7L324.0,358.5L326.1,363.3L329.5,365.4L332.2,369.5L336.4,375.0L339.8,380.5L343.2,385.3L346.0,388.1 M327.4,312.9L342.6,312.4L342.6,325.5L327.4,325.2 M342.6,311.1L346.0,311.1 M295.4,335.1L297.2,332.6L299.2,333.8L297.9,337.2L295.8,337.2L295.4,335.1 M340.5,380.5L343.2,378.4L346.0,377.8 M344.6,364.0L346.0,363.7 M344.6,369.5L346.0,369.8 M344.6,364.0L344.4,369.5 M346.0,311.1L352.9,311.1L360.4,311.8L369.4,312.4L377.6,314.5L384.5,315.9L387.0,317.9L387.2,313.1L388.6,309.0 M360.4,311.8L359.8,315.9L359.8,322.1L363.9,322.1L368.7,321.4L371.4,325.5L369.4,331.0L366.6,334.4L366.6,338.6L370.1,341.3L372.1,344.8L371.4,353.0L371.4,359.9L368.7,364.7L366.6,364.0L363.9,361.9L359.8,363.3L357.0,361.2L355.6,358.5L352.9,359.2L352.2,363.3L348.8,364.0L346.0,364.0 M407.2,309.0L406.5,314.5L405.8,321.4L405.1,326.9L403.8,333.8L403.1,340.6L402.4,344.1L398.2,348.2L394.1,351.6L390.7,357.1L387.9,362.6L387.9,369.5L387.2,376.4L385.9,380.5L381.8,383.9L379.0,387.4L376.2,391.5L373.5,394.0 M346.0,370.9L347.4,373.6L347.4,379.1L346.0,379.8 M362.5,391.5L366.6,388.1L370.8,387.4L372.1,391.5L373.5,394.0 M526.8,309.0L530.2,311.1L532.3,310.4L530.9,315.9L527.5,321.4L524.1,324.8L522.7,322.8L526.1,317.2L529.6,313.1L532.3,310.4 M524.8,322.8L528.9,316.6L531.4,312.4 M523.4,324.1L519.2,326.9L517.2,332.4L516.5,337.9L515.1,337.9L512.4,340.6L513.1,344.5L515.8,343.4L517.2,339.9L516.5,337.9 M515.1,344.8L514.4,351.6L517.9,353.0L523.4,349.6L535.8,348.6L556.4,348.6L558.4,350.2L563.9,353.0 M563.9,322.8L561.2,325.5L559.1,331.0L557.1,334.4L557.8,340.6L556.4,348.6 M535.8,347.5L537.1,339.2L539.2,341.3L538.5,337.9L542.6,335.8L546.8,334.4L549.5,332.4L552.2,334.4L555.7,336.5L557.1,343.4L560.5,342.0L563.2,339.9L561.2,343.4L557.1,344.8L555.7,348.9L555.0,354.4L553.6,357.1L550.9,358.5L552.2,361.2L549.5,361.9L546.8,364.0L545.4,369.5L544.0,365.4L541.2,363.3L539.2,365.4L537.1,364.0L535.8,368.1L534.4,359.9L535.1,353.0L535.8,347.5 M514.4,351.6L511.0,355.1L509.6,356.4 M508.2,365.4L511.0,367.4L513.8,369.2L517.9,367.4L518.6,364.0L523.4,363.7L526.1,361.9L526.8,357.1L524.8,351.6L523.4,349.6 M513.8,369.2L513.1,373.6L511.7,377.8L513.8,383.2L516.5,386.7L519.2,383.9L522.0,379.1L526.1,373.6L526.8,371.6L523.4,369.5L522.7,366.1L523.4,363.7 M510.3,375.0L511.0,383.2L512.4,388.8L513.1,394.0 M512.4,375.0L512.6,383.2L514.4,388.8L515.8,394.0 M347.4,394.0L348.8,399.5L351.5,404.3L354.2,411.9L357.0,420.1L359.8,428.4L361.1,433.9L357.7,439.4L359.1,444.9L361.8,451.8L364.6,458.6L365.9,465.5L365.2,472.4L362.5,479.0 M351.5,394.0L350.8,399.5L352.2,403.6 M351.5,405.0L352.2,403.9L373.5,403.6L391.4,403.4L392.8,407.8L394.8,414.6L398.2,422.9L401.0,428.4L406.5,427.7L417.5,427.0L418.9,417.4L428.5,416.0L429.2,419.4L440.9,419.9L441.6,428.4L440.9,438.0L440.9,444.9L445.0,451.8L445.7,458.6L445.7,464.1L450.5,462.8L456.0,462.1 M511.0,394.0L510.3,399.5L512.4,403.6L511.7,407.8L515.1,411.9L517.9,417.4L520.6,421.5L522.7,427.0L524.8,431.1L527.5,435.2L529.6,434.6L527.5,429.8L525.4,424.2L523.4,418.8L522.0,414.6L519.2,410.5L517.2,406.4L518.6,402.2L516.5,398.1L516.5,394.0 M513.8,394.0L513.5,399.5L515.1,403.6L514.4,407.8L517.2,411.9L519.9,417.4L522.0,421.5L524.1,427.0L526.1,431.1L528.2,434.6 M530.2,434.6L534.4,437.3L539.9,440.1L545.4,442.8L549.5,445.6L552.2,446.2L556.4,444.9 M503.4,440.8L508.2,433.9L511.0,435.2L506.2,443.5L503.4,444.9L503.4,440.8 M504.8,441.4L509.4,434.8 M505.8,442.4L510.3,435.5 M513.8,438.7L515.1,434.6L517.2,433.9L516.5,438.0L514.4,439.6L513.8,438.7 M508.2,433.9L515.1,432.5L523.4,430.4L526.1,431.8L528.2,434.6 M503.4,444.9L506.2,447.6L505.5,453.1L504.8,458.6L503.4,465.5L503.4,469.6L506.9,473.8L511.0,477.2L515.1,477.9L516.5,475.8 M456.0,462.1L461.5,461.4L462.2,464.1L465.6,466.2L469.8,465.5L473.9,464.8L474.6,468.9L479.4,471.0L484.9,473.1L489.0,472.4L491.8,468.9L492.4,471.7L495.9,475.1L500.0,477.2L503.4,477.9 M461.8,461.4L461.8,479.0 M514.4,462.8L516.5,460.3L519.2,461.4L518.6,465.5L515.8,467.6L513.8,465.5L514.4,462.8 M515.4,464.1L517.2,462.1L517.9,464.1L516.5,466.2L515.4,464.1 M535.8,424.9L537.8,423.6L540.6,427.0L544.0,430.4L545.4,432.5L543.3,433.2L539.9,429.1L537.1,427.7L535.8,424.9 M549.5,445.6L552.2,451.8L552.9,458.6L550.9,462.8L550.2,471.0L551.6,479.0 M556.4,444.9L559.1,449.0L561.2,455.9L561.9,462.8L562.6,471.0L561.9,479.0 M555.7,446.9L557.8,454.5L558.4,462.8L559.8,471.0L558.4,479.0 M361.1,479.0L357.0,483.1L353.6,488.6L352.2,494.1L350.8,501.0L349.4,507.9L348.1,514.8L346.0,516.8L345.6,520.2L345.9,524.4L345.4,528.5L345.9,532.6L345.4,535.4L346.1,540.5L348.1,546.0L351.5,551.9L354.2,557.4L357.0,561.5L358.1,563.4 M346.0,532.6L351.5,531.9L355.6,530.6L359.8,529.9L363.9,531.9L366.6,534.7L369.4,534.0L409.2,534.3L412.0,537.4L416.1,539.5L423.0,540.2L429.9,540.9L434.0,541.6L442.2,540.2L449.1,538.8L456.0,537.4 M456.0,540.9L445.0,542.9L433.6,545.0L433.6,562.5 M456.0,484.8L442.9,485.2L442.7,496.9L442.9,509.2L442.7,520.2L445.0,524.4L449.1,529.9L453.2,534.0L456.0,536.8 M456.0,484.5L461.5,484.2L462.2,479.0 M504.1,479.0L506.9,483.1L509.6,487.9L512.4,489.3L516.5,488.6L516.5,479.0 M456.0,536.1L462.9,535.4L468.4,536.1L473.2,538.8L478.0,540.2L483.5,540.9L488.3,542.2L491.8,539.5L493.8,535.4L495.9,531.2L500.0,528.5L504.1,526.4L507.6,526.4L507.6,520.2L511.0,516.1L516.5,514.5L521.3,514.8 M456.0,542.2L458.1,546.4L461.5,543.6L466.3,540.2L471.1,538.8L473.2,538.8 M473.2,538.8L475.2,543.6L478.0,549.1L480.8,554.6L483.5,560.1L486.2,562.5 M521.3,514.8L520.6,507.9L527.5,504.4L535.8,501.0L544.0,497.6L547.4,496.2 M547.4,479.0L546.8,484.5L545.4,491.4L547.4,496.2L550.9,499.6L553.6,502.4L557.8,501.7L561.2,501.7L562.6,506.5L563.2,513.4L563.9,520.2 M557.8,479.0L559.8,484.5L561.9,491.4L563.2,498.2L563.2,506.5 M559.8,479.0L561.6,484.5L563.2,491.4 M521.3,514.8L522.7,518.9L527.5,519.6L533.0,521.6L538.5,524.4L544.0,526.4L546.1,531.2L546.8,539.5L546.1,547.8L545.4,556.0L546.8,562.5" fill="none" stroke="#000" stroke-width="1.25" stroke-linejoin="round" stroke-linecap="round"/>
<path d="M528.2,93.2L530.9,87.7L534.1,82.2L534.6,79.8L537.1,81.5L539.2,78.8L541.9,79.8L544.0,76.0L546.1,76.7L545.1,71.2L547.0,69.8L546.1,65.0 M273.1,207.1L277.2,210.5L279.3,214.6L277.2,218.8L278.6,224.0 M277.9,224.0L278.4,225.4 M266.9,263.6L270.4,262.5 M283.4,271.4L285.5,273.8L287.1,276.2 M296.5,286.6L299.2,283.8L302.0,285.9L304.8,284.5L306.1,286.1 M314.4,282.4L316.4,285.2L318.5,287.2 M324.0,291.4L326.1,292.8 M416.4,318.9L420.2,317.2L423.7,315.6 M431.5,314.5L434.0,314.9L436.5,314.5 M453.2,316.1L455.3,319.7 M406.9,334.0L407.2,337.2 M405.8,356.0L410.4,356.4L408.6,360.6L410.4,361.5L407.9,365.4L407.2,368.1 M509.6,355.8L508.5,360.6L508.0,365.4 M511.3,376.4L511.8,383.2L513.5,390.1L514.3,394.0 M546.1,359.9L550.9,359.6 M536.4,364.7L537.1,367.9 M545.1,368.1L546.1,370.6 M494.5,534.0L496.6,530.6L500.0,528.2L504.1,526.4L507.6,526.0 M526.1,515.0L533.0,515.4L538.5,514.5L544.0,513.6" fill="none" stroke="#000" stroke-width="2.0" stroke-linejoin="round" stroke-linecap="round"/>
<path d="M303.8,317.9L305.4,317.5L305.9,319.3L304.2,319.7Z" fill="#000" stroke="#000" stroke-width="0.6"/>
<path d="M287.4,353.1L288.5,353.1L288.5,354.2L287.4,354.2Z" fill="#000" stroke="#000" stroke-width="0.6"/>
<path d="M328.9,346.1L332.2,348.2L329.5,350.2Z" fill="#000" stroke="#000" stroke-width="0.6"/>
<path d="M322.6,329.6L325.4,331.0L324.7,333.1L322.9,332.4Z" fill="#000" stroke="#000" stroke-width="0.6"/>
<path d="M321.9,353.0L324.7,354.4L325.4,357.1L323.3,356.4Z" fill="#000" stroke="#000" stroke-width="0.6"/>
<path d="M326.8,364.0L330.2,364.7L330.9,366.8L328.1,366.1Z" fill="#000" stroke="#000" stroke-width="0.6"/>
<path d="M317.8,344.5L319.9,345.0L319.2,346.8Z" fill="#000" stroke="#000" stroke-width="0.6"/>
<path d="M403.5,344.5L405.4,344.1L406.8,346.4L406.2,348.9L404.4,348.2Z" fill="#000" stroke="#000" stroke-width="0.6"/>
<path d="M380.1,384.4L382.0,383.5L382.3,385.7L380.6,386.3Z" fill="#000" stroke="#000" stroke-width="0.6"/>
<path d="M539.9,318.6L544.0,317.2L546.8,315.9L547.4,317.9L551.6,317.9L550.9,320.0L549.5,322.8L545.4,322.1L542.6,320.0Z" fill="#000" stroke="#000" stroke-width="0.6"/>
<path d="M482.8,434.6L484.9,433.5L486.5,434.8L484.9,436.4L483.2,435.9Z" fill="#000" stroke="#000" stroke-width="0.6"/>
<path d="M489.3,460.0L492.7,460.3L491.1,462.8Z" fill="#000" stroke="#000" stroke-width="0.6"/>
</g>
<rect x="236" y="54.5" width="328" height="508.5" fill="none" stroke="#000" stroke-width="1.6"/>
<line x1="232" y1="110.0" x2="236" y2="110.0" stroke="#000" stroke-width="1.3"/>
<text class="a" x="229.5" y="115.0" text-anchor="end">20N</text>
<line x1="232" y1="166.8" x2="236" y2="166.8" stroke="#000" stroke-width="1.3"/>
<text class="a" x="229.5" y="171.8" text-anchor="end">15N</text>
<line x1="232" y1="223.6" x2="236" y2="223.6" stroke="#000" stroke-width="1.3"/>
<text class="a" x="229.5" y="228.6" text-anchor="end">10N</text>
<line x1="232" y1="280.3" x2="236" y2="280.3" stroke="#000" stroke-width="1.3"/>
<text class="a" x="229.5" y="285.3" text-anchor="end">5N</text>
<line x1="232" y1="337.1" x2="236" y2="337.1" stroke="#000" stroke-width="1.3"/>
<text class="a" x="229.5" y="342.1" text-anchor="end">EQ</text>
<line x1="232" y1="393.9" x2="236" y2="393.9" stroke="#000" stroke-width="1.3"/>
<text class="a" x="229.5" y="398.9" text-anchor="end">5S</text>
<line x1="232" y1="450.6" x2="236" y2="450.6" stroke="#000" stroke-width="1.3"/>
<text class="a" x="229.5" y="455.6" text-anchor="end">10S</text>
<line x1="232" y1="507.4" x2="236" y2="507.4" stroke="#000" stroke-width="1.3"/>
<text class="a" x="229.5" y="512.4" text-anchor="end">15S</text>
<line x1="263.1" y1="563" x2="263.1" y2="567.2" stroke="#000" stroke-width="1.3"/>
<text class="a" x="263.1" y="576.7" text-anchor="middle">3E</text>
<line x1="291.5" y1="563" x2="291.5" y2="567.2" stroke="#000" stroke-width="1.3"/>
<text class="a" x="291.5" y="576.7" text-anchor="middle">6E</text>
<line x1="319.8" y1="563" x2="319.8" y2="567.2" stroke="#000" stroke-width="1.3"/>
<text class="a" x="319.8" y="576.7" text-anchor="middle">9E</text>
<line x1="348.2" y1="563" x2="348.2" y2="567.2" stroke="#000" stroke-width="1.3"/>
<text class="a" x="348.2" y="576.7" text-anchor="middle">12E</text>
<line x1="376.6" y1="563" x2="376.6" y2="567.2" stroke="#000" stroke-width="1.3"/>
<text class="a" x="376.6" y="576.7" text-anchor="middle">15E</text>
<line x1="405.0" y1="563" x2="405.0" y2="567.2" stroke="#000" stroke-width="1.3"/>
<text class="a" x="405.0" y="576.7" text-anchor="middle">18E</text>
<line x1="433.4" y1="563" x2="433.4" y2="567.2" stroke="#000" stroke-width="1.3"/>
<text class="a" x="433.4" y="576.7" text-anchor="middle">21E</text>
<line x1="461.7" y1="563" x2="461.7" y2="567.2" stroke="#000" stroke-width="1.3"/>
<text class="a" x="461.7" y="576.7" text-anchor="middle">24E</text>
<line x1="490.1" y1="563" x2="490.1" y2="567.2" stroke="#000" stroke-width="1.3"/>
<text class="a" x="490.1" y="576.7" text-anchor="middle">27E</text>
<line x1="518.5" y1="563" x2="518.5" y2="567.2" stroke="#000" stroke-width="1.3"/>
<text class="a" x="518.5" y="576.7" text-anchor="middle">30E</text>
<line x1="546.9" y1="563" x2="546.9" y2="567.2" stroke="#000" stroke-width="1.3"/>
<text class="a" x="546.9" y="576.7" text-anchor="middle">33E</text>
<polygon points="675.3,88.0 682.0,61.5 688.7,88.0" fill="#e11400" stroke="#000" stroke-width="1.5" stroke-linejoin="miter"/>
<rect x="675.3" y="88.0" width="13.400000000000091" height="26.0" fill="#ff3200" stroke="#000" stroke-width="1.5"/>
<rect x="675.3" y="114.0" width="13.400000000000091" height="26.0" fill="#ff6000" stroke="#000" stroke-width="1.5"/>
<rect x="675.3" y="140.0" width="13.400000000000091" height="26.0" fill="#ffa000" stroke="#000" stroke-width="1.5"/>
<rect x="675.3" y="166.0" width="13.400000000000091" height="26.0" fill="#ffc03c" stroke="#000" stroke-width="1.5"/>
<rect x="675.3" y="192.0" width="13.400000000000091" height="26.0" fill="#ffe878" stroke="#000" stroke-width="1.5"/>
<rect x="675.3" y="218.0" width="13.400000000000091" height="26.0" fill="#fffaaa" stroke="#000" stroke-width="1.5"/>
<rect x="675.3" y="244.0" width="13.400000000000091" height="26.0" fill="#37d23c" stroke="#000" stroke-width="1.5"/>
<rect x="675.3" y="270.0" width="13.400000000000091" height="26.0" fill="#78f573" stroke="#000" stroke-width="1.5"/>
<rect x="675.3" y="296.0" width="13.400000000000091" height="26.0" fill="#b4faaa" stroke="#000" stroke-width="1.5"/>
<rect x="675.3" y="322.0" width="13.400000000000091" height="26.0" fill="#e1ffff" stroke="#000" stroke-width="1.5"/>
<rect x="675.3" y="348.0" width="13.400000000000091" height="26.0" fill="#96d2fa" stroke="#000" stroke-width="1.5"/>
<rect x="675.3" y="374.0" width="13.400000000000091" height="26.0" fill="#78b9fa" stroke="#000" stroke-width="1.5"/>
<rect x="675.3" y="400.0" width="13.400000000000091" height="26.0" fill="#50a5f5" stroke="#000" stroke-width="1.5"/>
<rect x="675.3" y="426.0" width="13.400000000000091" height="26.0" fill="#3c96f5" stroke="#000" stroke-width="1.5"/>
<rect x="675.3" y="452.0" width="13.400000000000091" height="26.0" fill="#1e6eeb" stroke="#000" stroke-width="1.5"/>
<rect x="675.3" y="478.0" width="13.400000000000091" height="26.0" fill="#1464d2" stroke="#000" stroke-width="1.5"/>
<rect x="675.3" y="504.0" width="13.400000000000091" height="26.0" fill="#12127c" stroke="#000" stroke-width="1.5"/>
<polygon points="675.3,530.0 682.0,556.5 688.7,530.0" fill="#dcdcff" stroke="#000" stroke-width="1.5" stroke-linejoin="miter"/>
<text class="c" x="693.6" y="93.2">34</text>
<text class="c" x="693.6" y="119.2">32</text>
<text class="c" x="693.6" y="145.2">30</text>
<text class="c" x="693.6" y="171.2">28</text>
<text class="c" x="693.6" y="197.2">26</text>
<text class="c" x="693.6" y="223.2">24</text>
<text class="c" x="693.6" y="249.2">22</text>
<text class="c" x="693.6" y="275.2">20</text>
<text class="c" x="693.6" y="301.2">18</text>
<text class="c" x="693.6" y="327.2">16</text>
<text class="c" x="693.6" y="353.2">14</text>
<text class="c" x="693.6" y="379.2">12</text>
<text class="c" x="693.6" y="405.2">10</text>
<text class="c" x="693.6" y="431.2">8</text>
<text class="c" x="693.6" y="457.2">6</text>
<text class="c" x="693.6" y="483.2">4</text>
<text class="c" x="693.6" y="509.2">2</text>
<text class="c" x="693.6" y="535.2">0</text>
<text class="g" x="4.2" y="614.6" textLength="103.5" lengthAdjust="spacing">GrADS: IGES/COLA</text>
</svg></body></html>
